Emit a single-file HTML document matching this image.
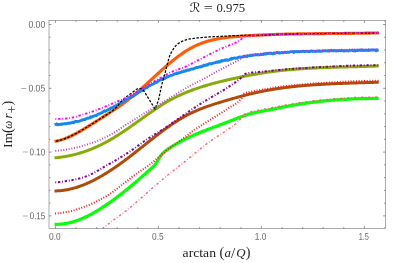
<!DOCTYPE html>
<html lang="en"><head><meta charset="utf-8"><title>R = 0.975</title>
<style>html,body{margin:0;padding:0;background:#fff}svg{display:block}.tk{font-family:"Liberation Sans",sans-serif;font-size:9.8px;fill:#666}.lb{font-family:"Liberation Serif","DejaVu Serif",serif;fill:#222}</style></head><body>
<svg width="407" height="263" viewBox="0 0 407 263">
<rect width="407" height="263" fill="#fff"/>
<defs><clipPath id="c"><rect x="49.0" y="20.5" width="336.5" height="208.0"/></clipPath><filter id="gs" x="0" y="0" width="100%" height="100%" filterUnits="userSpaceOnUse" color-interpolation-filters="sRGB"><feColorMatrix type="saturate" values="0"/></filter></defs>
<g clip-path="url(#c)" fill="none" stroke-linejoin="round">
<path d="M54.50,141.46 L55.25,141.33 L56.00,141.19 L56.75,141.04 L57.50,140.87 L58.25,140.69 L59.00,140.50 L59.75,140.30 L60.50,140.09 L61.25,139.86 L62.00,139.63 L62.75,139.38 L63.50,139.12 L64.25,138.86 L65.00,138.58 L65.75,138.29 L66.50,137.99 L67.25,137.69 L68.00,137.37 L68.75,137.04 L69.50,136.71 L70.25,136.37 L71.00,136.02 L71.75,135.66 L72.50,135.30 L73.25,134.93 L74.00,134.55 L74.75,134.16 L75.50,133.77 L76.25,133.37 L77.00,132.97 L77.75,132.56 L78.50,132.14 L79.25,131.72 L80.00,131.29 L80.75,130.86 L81.50,130.43 L82.25,129.99 L83.00,129.55 L83.75,129.10 L84.50,128.65 L85.25,128.20 L86.00,127.74 L86.75,127.28 L87.50,126.82 L88.25,126.36 L89.00,125.89 L89.75,125.42 L90.50,124.96 L91.25,124.49 L92.00,124.02 L92.75,123.55 L93.50,123.07 L94.25,122.60 L95.00,122.13 L95.75,121.65 L96.50,121.17 L97.25,120.70 L98.00,120.22 L98.75,119.74 L99.50,119.26 L100.25,118.78 L101.00,118.30 L101.75,117.82 L102.50,117.34 L103.25,116.86 L104.00,116.38 L104.75,115.90 L105.50,115.41 L106.25,114.93 L107.00,114.45 L107.75,113.96 L108.50,113.48 L109.25,113.00 L110.00,112.51 L110.75,112.02 L111.50,111.54 L112.25,111.05 L113.00,110.56 L113.75,110.06 L114.50,109.57 L115.25,109.07 L116.00,108.57 L116.75,108.06 L117.50,107.55 L118.25,107.04 L119.00,106.53 L119.75,106.01 L120.50,105.48 L121.25,104.95 L122.00,104.42 L122.75,103.88 L123.50,103.34 L124.25,102.79 L125.00,102.23 L125.75,101.67 L126.50,101.10 L127.25,100.53 L128.00,99.94 L128.75,99.35 L129.50,98.76 L130.25,98.16 L131.00,97.55 L131.75,96.94 L132.50,96.32 L133.25,95.70 L134.00,95.07 L134.75,94.43 L135.50,93.79 L136.25,93.15 L137.00,92.50 L137.75,91.85 L138.50,91.20 L139.25,90.54 L140.00,89.88 L140.75,89.21 L141.50,88.54 L142.25,87.87 L143.00,87.20 L143.75,86.52 L144.50,85.84 L145.25,85.16 L146.00,84.48 L146.75,83.79 L147.50,83.11 L148.25,82.42 L149.00,81.73 L149.75,81.04 L150.50,80.35 L151.25,79.66 L152.00,78.97 L152.75,78.28 L153.50,77.60 L154.25,76.91 L155.00,76.22 L155.75,75.53 L156.50,74.84 L157.25,74.16 L158.00,73.48 L158.75,72.79 L159.50,72.12 L160.25,71.44 L161.00,70.76 L161.75,70.09 L162.50,69.42 L163.25,68.75 L164.00,68.09 L164.75,67.43 L165.50,66.77 L166.25,66.12 L167.00,65.47 L167.75,64.82 L168.50,64.18 L169.25,63.55 L170.00,62.92 L170.75,62.29 L171.50,61.67 L172.25,61.06 L173.00,60.45 L173.75,59.84 L174.50,59.25 L175.25,58.65 L176.00,58.07 L176.75,57.49 L177.50,56.92 L178.25,56.36 L179.00,55.80 L179.75,55.25 L180.50,54.71 L181.25,54.18 L182.00,53.65 L182.75,53.13 L183.50,52.63 L184.25,52.13 L185.00,51.64 L185.75,51.16 L186.50,50.68 L187.25,50.22 L188.00,49.77 L188.75,49.33 L189.50,48.89 L190.25,48.47 L191.00,48.06 L191.75,47.66 L192.50,47.27 L193.25,46.89 L194.00,46.51 L194.75,46.15 L195.50,45.80 L196.25,45.45 L197.00,45.12 L197.75,44.79 L198.50,44.47 L199.25,44.16 L200.00,43.86 L200.75,43.57 L201.50,43.29 L202.25,43.01 L203.00,42.74 L203.75,42.48 L204.50,42.23 L205.25,41.98 L206.00,41.74 L206.75,41.51 L207.50,41.29 L208.25,41.07 L209.00,40.86 L209.75,40.66 L210.50,40.46 L211.25,40.27 L212.00,40.08 L212.75,39.91 L213.50,39.73 L214.25,39.57 L215.00,39.40 L215.75,39.25 L216.50,39.10 L217.25,38.95 L218.00,38.81 L218.75,38.68 L219.50,38.54 L220.25,38.42 L221.00,38.30 L221.75,38.18 L222.50,38.07 L223.25,37.96 L224.00,37.85 L224.75,37.75 L225.50,37.65 L226.25,37.56 L227.00,37.47 L227.75,37.38 L228.50,37.29 L229.25,37.21 L230.00,37.13 L230.75,37.06 L231.50,36.98 L232.25,36.91 L233.00,36.84 L233.75,36.77 L234.50,36.71 L235.25,36.64 L236.00,36.58 L236.75,36.52 L237.50,36.46 L238.25,36.40 L239.00,36.35 L239.75,36.29 L240.50,36.23 L241.25,36.18 L242.00,36.13 L242.75,36.07 L243.50,36.02 L244.25,35.97 L245.00,35.92 L245.75,35.87 L246.50,35.82 L247.25,35.77 L248.00,35.72 L248.75,35.68 L249.50,35.63 L250.25,35.58 L251.00,35.54 L251.75,35.50 L252.50,35.45 L253.25,35.41 L254.00,35.37 L254.75,35.33 L255.50,35.29 L256.25,35.25 L257.00,35.21 L257.75,35.17 L258.50,35.13 L259.25,35.09 L260.00,35.06 L260.75,35.02 L261.50,34.99 L262.25,34.95 L263.00,34.92 L263.75,34.88 L264.50,34.85 L265.25,34.82 L266.00,34.79 L266.75,34.76 L267.50,34.73 L268.25,34.70 L269.00,34.67 L269.75,34.64 L270.50,34.61 L271.25,34.58 L272.00,34.55 L272.75,34.53 L273.50,34.50 L274.25,34.48 L275.00,34.45 L275.75,34.43 L276.50,34.40 L277.25,34.38 L278.00,34.36 L278.75,34.33 L279.50,34.31 L280.25,34.29 L281.00,34.27 L281.75,34.25 L282.50,34.23 L283.25,34.21 L284.00,34.19 L284.75,34.17 L285.50,34.15 L286.25,34.13 L287.00,34.11 L287.75,34.10 L288.50,34.08 L289.25,34.06 L290.00,34.05 L290.75,34.03 L291.50,34.01 L292.25,34.00 L293.00,33.98 L293.75,33.97 L294.50,33.95 L295.25,33.94 L296.00,33.93 L296.75,33.91 L297.50,33.90 L298.25,33.89 L299.00,33.88 L299.75,33.86 L300.50,33.85 L301.25,33.84 L302.00,33.83 L302.75,33.82 L303.50,33.81 L304.25,33.80 L305.00,33.79 L305.75,33.78 L306.50,33.77 L307.25,33.76 L308.00,33.75 L308.75,33.74 L309.50,33.73 L310.25,33.72 L311.00,33.71 L311.75,33.71 L312.50,33.70 L313.25,33.69 L314.00,33.68 L314.75,33.67 L315.50,33.67 L316.25,33.66 L317.00,33.65 L317.75,33.65 L318.50,33.64 L319.25,33.63 L320.00,33.62 L320.75,33.62 L321.50,33.61 L322.25,33.60 L323.00,33.60 L323.75,33.59 L324.50,33.59 L325.25,33.58 L326.00,33.57 L326.75,33.57 L327.50,33.56 L328.25,33.56 L329.00,33.55 L329.75,33.54 L330.50,33.54 L331.25,33.53 L332.00,33.53 L332.75,33.52 L333.50,33.52 L334.25,33.51 L335.00,33.50 L335.75,33.50 L336.50,33.49 L337.25,33.49 L338.00,33.48 L338.75,33.47 L339.50,33.47 L340.25,33.46 L341.00,33.45 L341.75,33.45 L342.50,33.44 L343.25,33.44 L344.00,33.43 L344.75,33.42 L345.50,33.41 L346.25,33.41 L347.00,33.40 L347.75,33.39 L348.50,33.39 L349.25,33.38 L350.00,33.37 L350.75,33.36 L351.50,33.35 L352.25,33.35 L353.00,33.34 L353.75,33.33 L354.50,33.32 L355.25,33.31 L356.00,33.30 L356.75,33.29 L357.50,33.28 L358.25,33.27 L359.00,33.26 L359.75,33.25 L360.50,33.24 L361.25,33.23 L362.00,33.22 L362.75,33.21 L363.50,33.20 L364.25,33.19 L365.00,33.17 L365.75,33.16 L366.50,33.15 L367.25,33.14 L368.00,33.12 L368.75,33.11 L369.50,33.09 L370.25,33.08 L371.00,33.06 L371.75,33.05 L372.50,33.03 L373.25,33.02 L374.00,33.00 L374.75,32.99 L375.50,32.97 L376.25,32.95 L377.00,32.93 L377.75,32.92 L378.50,32.90 L378.70,32.89" stroke="#ff5c05" stroke-width="3.1"/>
<path d="M54.50,124.54 L55.25,124.35 L56.00,124.37 L56.75,123.84 L57.50,124.87 L58.25,124.67 L59.00,124.27 L59.75,124.49 L60.50,124.32 L61.25,124.05 L62.00,124.37 L62.75,123.97 L63.50,123.89 L64.25,123.69 L65.00,123.91 L65.75,123.67 L66.50,123.73 L67.25,123.33 L68.00,123.40 L68.75,123.02 L69.50,123.33 L70.25,123.03 L71.00,122.93 L71.75,122.80 L72.50,122.30 L73.25,122.59 L74.00,122.74 L74.75,121.65 L75.50,121.46 L76.25,121.33 L77.00,121.74 L77.75,121.37 L78.50,121.41 L79.25,121.12 L80.00,120.79 L80.75,120.60 L81.50,120.27 L82.25,120.31 L83.00,119.58 L83.75,119.53 L84.50,119.46 L85.25,119.60 L86.00,118.72 L86.75,118.39 L87.50,118.26 L88.25,118.38 L89.00,117.82 L89.75,117.94 L90.50,116.86 L91.25,117.34 L92.00,117.03 L92.75,116.13 L93.50,116.23 L94.25,116.20 L95.00,115.61 L95.75,115.54 L96.50,115.57 L97.25,114.73 L98.00,114.28 L98.75,113.83 L99.50,113.86 L100.25,113.32 L101.00,112.99 L101.75,112.67 L102.50,112.52 L103.25,111.75 L104.00,111.28 L104.75,110.70 L105.50,111.26 L106.25,110.61 L107.00,110.61 L107.75,109.86 L108.50,109.31 L109.25,109.24 L110.00,108.73 L110.75,108.05 L111.50,107.76 L112.25,108.04 L113.00,107.29 L113.75,106.92 L114.50,106.35 L115.25,105.84 L116.00,105.84 L116.75,105.18 L117.50,104.61 L118.25,104.36 L119.00,103.75 L119.75,103.61 L120.50,103.42 L121.25,102.51 L122.00,102.65 L122.75,101.70 L123.50,101.48 L124.25,100.80 L125.00,100.52 L125.75,100.15 L126.50,99.59 L127.25,99.08 L128.00,98.64 L128.75,98.16 L129.50,97.53 L130.25,97.41 L131.00,97.12 L131.75,96.80 L132.50,96.28 L133.25,96.28 L134.00,95.29 L134.75,94.64 L135.50,94.77 L136.25,93.58 L137.00,93.63 L137.75,92.69 L138.50,92.56 L139.25,91.53 L140.00,91.79 L140.75,91.07 L141.50,90.42 L142.25,90.63 L143.00,89.95 L143.75,89.32 L144.50,88.67 L145.25,88.40 L146.00,87.93 L146.75,87.71 L147.50,87.29 L148.25,86.49 L149.00,86.08 L149.75,85.65 L150.50,85.02 L151.25,84.79 L152.00,84.49 L152.75,84.27 L153.50,84.01 L154.25,83.07 L155.00,83.00 L155.75,82.35 L156.50,82.58 L157.25,81.66 L158.00,81.41 L158.75,80.66 L159.50,80.32 L160.25,80.20 L161.00,79.68 L161.75,79.50 L162.50,78.67 L163.25,78.87 L164.00,78.14 L164.75,78.46 L165.50,77.62 L166.25,77.64 L167.00,76.70 L167.75,76.85 L168.50,76.22 L169.25,76.02 L170.00,75.86 L170.75,75.49 L171.50,75.35 L172.25,75.20 L173.00,74.91 L173.75,74.46 L174.50,73.89 L175.25,73.77 L176.00,73.68 L176.75,72.95 L177.50,73.43 L178.25,72.95 L179.00,72.71 L179.75,72.78 L180.50,72.49 L181.25,72.15 L182.00,71.62 L182.75,71.73 L183.50,71.52 L184.25,71.00 L185.00,71.27 L185.75,70.92 L186.50,70.09 L187.25,70.40 L188.00,69.84 L188.75,70.23 L189.50,69.94 L190.25,69.25 L191.00,69.09 L191.75,69.13 L192.50,68.83 L193.25,69.06 L194.00,68.65 L194.75,68.18 L195.50,68.18 L196.25,67.31 L197.00,67.68 L197.75,67.61 L198.50,67.13 L199.25,66.79 L200.00,66.89 L200.75,67.03 L201.50,66.38 L202.25,65.83 L203.00,66.26 L203.75,65.22 L204.50,65.61 L205.25,65.13 L206.00,65.30 L206.75,64.65 L207.50,64.98 L208.25,64.52 L209.00,63.81 L209.75,63.54 L210.50,63.76 L211.25,63.96 L212.00,63.47 L212.75,63.26 L213.50,62.98 L214.25,63.03 L215.00,62.75 L215.75,62.53 L216.50,62.03 L217.25,62.38 L218.00,62.24 L218.75,61.39 L219.50,62.11 L220.25,61.54 L221.00,61.06 L221.75,60.53 L222.50,60.99 L223.25,60.80 L224.00,60.34 L224.75,59.87 L225.50,60.44 L226.25,59.85 L227.00,59.71 L227.75,60.39 L228.50,60.05 L229.25,59.60 L230.00,59.10 L230.75,59.22 L231.50,58.34 L232.25,58.79 L233.00,58.43 L233.75,58.15 L234.50,57.94 L235.25,58.32 L236.00,58.08 L236.75,57.96 L237.50,58.00 L238.25,57.44 L239.00,57.21 L239.75,56.95 L240.50,57.18 L241.25,57.33 L242.00,56.98 L242.75,57.06 L243.50,56.48 L244.25,56.54 L245.00,56.35 L245.75,56.12 L246.50,56.78 L247.25,56.42 L248.00,55.90 L248.75,55.79 L249.50,55.86 L250.25,55.41 L251.00,55.78 L251.75,55.24 L252.50,55.37 L253.25,55.11 L254.00,55.15 L254.75,54.84 L255.50,54.69 L256.25,54.74 L257.00,54.72 L257.75,54.73 L258.50,54.73 L259.25,55.01 L260.00,54.74 L260.75,54.39 L261.50,54.55 L262.25,54.12 L263.00,54.57 L263.75,54.27 L264.50,53.71 L265.25,54.17 L266.00,54.11 L266.75,53.16 L267.50,53.57 L268.25,53.56 L269.00,53.13 L269.75,53.28 L270.50,53.24 L271.25,53.54 L272.00,53.42 L272.75,53.93 L273.50,53.12 L274.25,53.44 L275.00,53.11 L275.75,53.10 L276.50,52.68 L277.25,52.44 L278.00,52.67 L278.75,52.99 L279.50,53.15 L280.25,52.85 L281.00,52.77 L281.75,52.38 L282.50,52.93 L283.25,52.83 L284.00,52.31 L284.75,52.39 L285.50,52.10 L286.25,52.67 L287.00,52.36 L287.75,52.19 L288.50,52.28 L289.25,52.24 L290.00,51.99 L290.75,51.74 L291.50,51.69 L292.25,51.54 L293.00,52.05 L293.75,52.46 L294.50,51.44 L295.25,51.86 L296.00,51.90 L296.75,51.52 L297.50,51.78 L298.25,51.42 L299.00,51.97 L299.75,51.49 L300.50,51.63 L301.25,51.75 L302.00,51.44 L302.75,51.07 L303.50,51.36 L304.25,51.66 L305.00,51.42 L305.75,51.47 L306.50,51.12 L307.25,51.40 L308.00,51.53 L308.75,51.33 L309.50,51.78 L310.25,51.23 L311.00,51.00 L311.75,50.83 L312.50,51.51 L313.25,51.18 L314.00,51.43 L314.75,51.27 L315.50,51.55 L316.25,51.44 L317.00,51.01 L317.75,51.16 L318.50,51.34 L319.25,50.75 L320.00,51.40 L320.75,51.33 L321.50,51.26 L322.25,50.95 L323.00,51.06 L323.75,50.69 L324.50,50.97 L325.25,50.80 L326.00,50.95 L326.75,50.79 L327.50,50.97 L328.25,51.19 L329.00,50.55 L329.75,51.10 L330.50,50.36 L331.25,50.30 L332.00,50.80 L332.75,50.82 L333.50,50.92 L334.25,50.39 L335.00,50.78 L335.75,50.81 L336.50,51.08 L337.25,50.73 L338.00,50.88 L338.75,50.49 L339.50,50.68 L340.25,50.61 L341.00,50.89 L341.75,50.45 L342.50,50.48 L343.25,50.82 L344.00,51.12 L344.75,50.76 L345.50,50.73 L346.25,50.55 L347.00,50.90 L347.75,50.75 L348.50,51.04 L349.25,50.68 L350.00,50.35 L350.75,50.44 L351.50,50.32 L352.25,50.24 L353.00,50.86 L353.75,50.74 L354.50,50.21 L355.25,50.96 L356.00,50.56 L356.75,50.25 L357.50,50.57 L358.25,50.44 L359.00,50.26 L359.75,49.95 L360.50,50.43 L361.25,50.48 L362.00,49.75 L362.75,50.52 L363.50,50.52 L364.25,50.23 L365.00,50.36 L365.75,50.25 L366.50,50.09 L367.25,50.20 L368.00,50.61 L368.75,49.89 L369.50,50.29 L370.25,50.26 L371.00,50.02 L371.75,50.07 L372.50,49.81 L373.25,49.92 L374.00,50.12 L374.75,50.18 L375.50,49.85 L376.25,50.82 L377.00,49.89 L377.75,50.04 L378.50,49.92 L378.70,49.87" stroke="#1787f0" stroke-width="2.85"/>
<path d="M54.50,157.86 L55.25,157.79 L56.00,157.72 L56.75,157.65 L57.50,157.57 L58.25,157.49 L59.00,157.40 L59.75,157.31 L60.50,157.21 L61.25,157.11 L62.00,157.00 L62.75,156.89 L63.50,156.77 L64.25,156.65 L65.00,156.53 L65.75,156.40 L66.50,156.26 L67.25,156.12 L68.00,155.98 L68.75,155.83 L69.50,155.68 L70.25,155.52 L71.00,155.35 L71.75,155.19 L72.50,155.01 L73.25,154.84 L74.00,154.65 L74.75,154.47 L75.50,154.27 L76.25,154.08 L77.00,153.87 L77.75,153.67 L78.50,153.45 L79.25,153.24 L80.00,153.02 L80.75,152.79 L81.50,152.56 L82.25,152.32 L83.00,152.08 L83.75,151.83 L84.50,151.58 L85.25,151.32 L86.00,151.06 L86.75,150.79 L87.50,150.52 L88.25,150.24 L89.00,149.96 L89.75,149.68 L90.50,149.38 L91.25,149.09 L92.00,148.78 L92.75,148.48 L93.50,148.16 L94.25,147.84 L95.00,147.52 L95.75,147.19 L96.50,146.86 L97.25,146.52 L98.00,146.18 L98.75,145.83 L99.50,145.47 L100.25,145.11 L101.00,144.75 L101.75,144.38 L102.50,144.00 L103.25,143.62 L104.00,143.24 L104.75,142.85 L105.50,142.45 L106.25,142.05 L107.00,141.64 L107.75,141.23 L108.50,140.81 L109.25,140.38 L110.00,139.96 L110.75,139.52 L111.50,139.09 L112.25,138.64 L113.00,138.19 L113.75,137.74 L114.50,137.29 L115.25,136.83 L116.00,136.36 L116.75,135.89 L117.50,135.42 L118.25,134.94 L119.00,134.46 L119.75,133.98 L120.50,133.49 L121.25,133.00 L122.00,132.51 L122.75,132.01 L123.50,131.51 L124.25,131.01 L125.00,130.50 L125.75,129.99 L126.50,129.48 L127.25,128.97 L128.00,128.45 L128.75,127.93 L129.50,127.41 L130.25,126.89 L131.00,126.37 L131.75,125.84 L132.50,125.31 L133.25,124.78 L134.00,124.25 L134.75,123.72 L135.50,123.19 L136.25,122.65 L137.00,122.12 L137.75,121.58 L138.50,121.04 L139.25,120.51 L140.00,119.97 L140.75,119.43 L141.50,118.89 L142.25,118.35 L143.00,117.82 L143.75,117.28 L144.50,116.74 L145.25,116.20 L146.00,115.67 L146.75,115.14 L147.50,114.60 L148.25,114.07 L149.00,113.54 L149.75,113.01 L150.50,112.49 L151.25,111.97 L152.00,111.44 L152.75,110.93 L153.50,110.41 L154.25,109.90 L155.00,109.39 L155.75,108.88 L156.50,108.38 L157.25,107.88 L158.00,107.38 L158.75,106.89 L159.50,106.40 L160.25,105.91 L161.00,105.44 L161.75,104.96 L162.50,104.49 L163.25,104.02 L164.00,103.56 L164.75,103.11 L165.50,102.66 L166.25,102.22 L167.00,101.78 L167.75,101.35 L168.50,100.92 L169.25,100.50 L170.00,100.09 L170.75,99.68 L171.50,99.28 L172.25,98.88 L173.00,98.49 L173.75,98.10 L174.50,97.72 L175.25,97.35 L176.00,96.98 L176.75,96.61 L177.50,96.25 L178.25,95.90 L179.00,95.55 L179.75,95.20 L180.50,94.86 L181.25,94.53 L182.00,94.19 L182.75,93.87 L183.50,93.54 L184.25,93.23 L185.00,92.91 L185.75,92.60 L186.50,92.29 L187.25,91.99 L188.00,91.69 L188.75,91.40 L189.50,91.11 L190.25,90.82 L191.00,90.53 L191.75,90.25 L192.50,89.98 L193.25,89.70 L194.00,89.43 L194.75,89.16 L195.50,88.90 L196.25,88.64 L197.00,88.38 L197.75,88.13 L198.50,87.88 L199.25,87.63 L200.00,87.38 L200.75,87.14 L201.50,86.90 L202.25,86.66 L203.00,86.43 L203.75,86.20 L204.50,85.97 L205.25,85.74 L206.00,85.52 L206.75,85.29 L207.50,85.07 L208.25,84.86 L209.00,84.64 L209.75,84.43 L210.50,84.22 L211.25,84.01 L212.00,83.81 L212.75,83.60 L213.50,83.40 L214.25,83.20 L215.00,83.00 L215.75,82.81 L216.50,82.61 L217.25,82.42 L218.00,82.23 L218.75,82.04 L219.50,81.85 L220.25,81.66 L221.00,81.48 L221.75,81.29 L222.50,81.11 L223.25,80.93 L224.00,80.75 L224.75,80.57 L225.50,80.39 L226.25,80.22 L227.00,80.04 L227.75,79.87 L228.50,79.69 L229.25,79.52 L230.00,79.35 L230.75,79.18 L231.50,79.01 L232.25,78.84 L233.00,78.67 L233.75,78.51 L234.50,78.34 L235.25,78.17 L236.00,78.01 L236.75,77.85 L237.50,77.69 L238.25,77.53 L239.00,77.37 L239.75,77.21 L240.50,77.05 L241.25,76.89 L242.00,76.74 L242.75,76.58 L243.50,76.43 L244.25,76.28 L245.00,76.13 L245.75,75.98 L246.50,75.83 L247.25,75.69 L248.00,75.54 L248.75,75.40 L249.50,75.25 L250.25,75.11 L251.00,74.97 L251.75,74.83 L252.50,74.69 L253.25,74.56 L254.00,74.42 L254.75,74.29 L255.50,74.16 L256.25,74.03 L257.00,73.90 L257.75,73.77 L258.50,73.64 L259.25,73.52 L260.00,73.39 L260.75,73.27 L261.50,73.15 L262.25,73.03 L263.00,72.91 L263.75,72.79 L264.50,72.68 L265.25,72.57 L266.00,72.46 L266.75,72.34 L267.50,72.24 L268.25,72.13 L269.00,72.02 L269.75,71.92 L270.50,71.82 L271.25,71.72 L272.00,71.62 L272.75,71.52 L273.50,71.42 L274.25,71.33 L275.00,71.24 L275.75,71.14 L276.50,71.05 L277.25,70.96 L278.00,70.88 L278.75,70.79 L279.50,70.70 L280.25,70.62 L281.00,70.54 L281.75,70.46 L282.50,70.38 L283.25,70.30 L284.00,70.22 L284.75,70.15 L285.50,70.07 L286.25,70.00 L287.00,69.93 L287.75,69.86 L288.50,69.79 L289.25,69.72 L290.00,69.65 L290.75,69.59 L291.50,69.52 L292.25,69.46 L293.00,69.40 L293.75,69.33 L294.50,69.27 L295.25,69.21 L296.00,69.16 L296.75,69.10 L297.50,69.04 L298.25,68.99 L299.00,68.93 L299.75,68.88 L300.50,68.83 L301.25,68.78 L302.00,68.73 L302.75,68.68 L303.50,68.63 L304.25,68.58 L305.00,68.53 L305.75,68.49 L306.50,68.44 L307.25,68.40 L308.00,68.36 L308.75,68.31 L309.50,68.27 L310.25,68.23 L311.00,68.19 L311.75,68.15 L312.50,68.11 L313.25,68.07 L314.00,68.04 L314.75,68.00 L315.50,67.97 L316.25,67.93 L317.00,67.90 L317.75,67.86 L318.50,67.83 L319.25,67.80 L320.00,67.77 L320.75,67.73 L321.50,67.70 L322.25,67.67 L323.00,67.64 L323.75,67.61 L324.50,67.59 L325.25,67.56 L326.00,67.53 L326.75,67.50 L327.50,67.48 L328.25,67.45 L329.00,67.42 L329.75,67.40 L330.50,67.37 L331.25,67.35 L332.00,67.33 L332.75,67.30 L333.50,67.28 L334.25,67.26 L335.00,67.23 L335.75,67.21 L336.50,67.19 L337.25,67.17 L338.00,67.14 L338.75,67.12 L339.50,67.10 L340.25,67.08 L341.00,67.06 L341.75,67.04 L342.50,67.02 L343.25,67.00 L344.00,66.98 L344.75,66.96 L345.50,66.94 L346.25,66.92 L347.00,66.90 L347.75,66.88 L348.50,66.86 L349.25,66.84 L350.00,66.82 L350.75,66.80 L351.50,66.78 L352.25,66.76 L353.00,66.74 L353.75,66.73 L354.50,66.71 L355.25,66.69 L356.00,66.67 L356.75,66.65 L357.50,66.63 L358.25,66.61 L359.00,66.59 L359.75,66.57 L360.50,66.55 L361.25,66.53 L362.00,66.50 L362.75,66.48 L363.50,66.46 L364.25,66.44 L365.00,66.42 L365.75,66.40 L366.50,66.38 L367.25,66.35 L368.00,66.33 L368.75,66.31 L369.50,66.28 L370.25,66.26 L371.00,66.23 L371.75,66.21 L372.50,66.19 L373.25,66.16 L374.00,66.13 L374.75,66.11 L375.50,66.08 L376.25,66.05 L377.00,66.03 L377.75,66.00 L378.50,65.97 L378.70,65.96" stroke="#86ac0a" stroke-width="3.0"/>
<path d="M54.50,190.93 L55.25,190.93 L56.00,190.92 L56.75,190.90 L57.50,190.87 L58.25,190.83 L59.00,190.78 L59.75,190.72 L60.50,190.66 L61.25,190.58 L62.00,190.50 L62.75,190.41 L63.50,190.31 L64.25,190.21 L65.00,190.09 L65.75,189.97 L66.50,189.84 L67.25,189.70 L68.00,189.56 L68.75,189.40 L69.50,189.24 L70.25,189.07 L71.00,188.89 L71.75,188.71 L72.50,188.52 L73.25,188.32 L74.00,188.11 L74.75,187.90 L75.50,187.68 L76.25,187.45 L77.00,187.21 L77.75,186.97 L78.50,186.72 L79.25,186.46 L80.00,186.20 L80.75,185.93 L81.50,185.65 L82.25,185.37 L83.00,185.08 L83.75,184.78 L84.50,184.48 L85.25,184.17 L86.00,183.85 L86.75,183.53 L87.50,183.20 L88.25,182.87 L89.00,182.53 L89.75,182.18 L90.50,181.83 L91.25,181.47 L92.00,181.11 L92.75,180.74 L93.50,180.36 L94.25,179.98 L95.00,179.59 L95.75,179.20 L96.50,178.80 L97.25,178.40 L98.00,177.99 L98.75,177.58 L99.50,177.16 L100.25,176.73 L101.00,176.30 L101.75,175.87 L102.50,175.43 L103.25,174.99 L104.00,174.54 L104.75,174.08 L105.50,173.63 L106.25,173.16 L107.00,172.70 L107.75,172.22 L108.50,171.75 L109.25,171.27 L110.00,170.78 L110.75,170.29 L111.50,169.80 L112.25,169.30 L113.00,168.80 L113.75,168.29 L114.50,167.79 L115.25,167.27 L116.00,166.75 L116.75,166.23 L117.50,165.71 L118.25,165.18 L119.00,164.65 L119.75,164.11 L120.50,163.58 L121.25,163.03 L122.00,162.49 L122.75,161.94 L123.50,161.39 L124.25,160.84 L125.00,160.28 L125.75,159.72 L126.50,159.15 L127.25,158.59 L128.00,158.02 L128.75,157.45 L129.50,156.87 L130.25,156.30 L131.00,155.72 L131.75,155.14 L132.50,154.55 L133.25,153.97 L134.00,153.38 L134.75,152.80 L135.50,152.21 L136.25,151.61 L137.00,151.02 L137.75,150.43 L138.50,149.83 L139.25,149.24 L140.00,148.64 L140.75,148.05 L141.50,147.45 L142.25,146.85 L143.00,146.26 L143.75,145.66 L144.50,145.06 L145.25,144.46 L146.00,143.87 L146.75,143.27 L147.50,142.67 L148.25,142.08 L149.00,141.48 L149.75,140.89 L150.50,140.29 L151.25,139.70 L152.00,139.11 L152.75,138.52 L153.50,137.94 L154.25,137.35 L155.00,136.77 L155.75,136.18 L156.50,135.60 L157.25,135.02 L158.00,134.45 L158.75,133.88 L159.50,133.30 L160.25,132.74 L161.00,132.17 L161.75,131.61 L162.50,131.05 L163.25,130.49 L164.00,129.94 L164.75,129.39 L165.50,128.84 L166.25,128.30 L167.00,127.76 L167.75,127.23 L168.50,126.70 L169.25,126.17 L170.00,125.65 L170.75,125.13 L171.50,124.62 L172.25,124.11 L173.00,123.60 L173.75,123.10 L174.50,122.61 L175.25,122.12 L176.00,121.63 L176.75,121.15 L177.50,120.68 L178.25,120.21 L179.00,119.75 L179.75,119.29 L180.50,118.84 L181.25,118.39 L182.00,117.95 L182.75,117.52 L183.50,117.09 L184.25,116.66 L185.00,116.25 L185.75,115.84 L186.50,115.44 L187.25,115.04 L188.00,114.65 L188.75,114.27 L189.50,113.89 L190.25,113.52 L191.00,113.15 L191.75,112.80 L192.50,112.44 L193.25,112.10 L194.00,111.76 L194.75,111.42 L195.50,111.09 L196.25,110.76 L197.00,110.44 L197.75,110.13 L198.50,109.82 L199.25,109.51 L200.00,109.21 L200.75,108.91 L201.50,108.62 L202.25,108.33 L203.00,108.05 L203.75,107.76 L204.50,107.49 L205.25,107.21 L206.00,106.94 L206.75,106.67 L207.50,106.41 L208.25,106.14 L209.00,105.89 L209.75,105.63 L210.50,105.37 L211.25,105.12 L212.00,104.87 L212.75,104.63 L213.50,104.38 L214.25,104.14 L215.00,103.90 L215.75,103.66 L216.50,103.43 L217.25,103.19 L218.00,102.96 L218.75,102.73 L219.50,102.50 L220.25,102.27 L221.00,102.04 L221.75,101.82 L222.50,101.60 L223.25,101.37 L224.00,101.15 L224.75,100.93 L225.50,100.71 L226.25,100.49 L227.00,100.27 L227.75,100.05 L228.50,99.83 L229.25,99.62 L230.00,99.40 L230.75,99.18 L231.50,98.97 L232.25,98.75 L233.00,98.54 L233.75,98.33 L234.50,98.11 L235.25,97.90 L236.00,97.69 L236.75,97.48 L237.50,97.27 L238.25,97.07 L239.00,96.86 L239.75,96.66 L240.50,96.45 L241.25,96.25 L242.00,96.05 L242.75,95.85 L243.50,95.66 L244.25,95.46 L245.00,95.27 L245.75,95.08 L246.50,94.89 L247.25,94.70 L248.00,94.51 L248.75,94.33 L249.50,94.14 L250.25,93.96 L251.00,93.78 L251.75,93.61 L252.50,93.43 L253.25,93.26 L254.00,93.09 L254.75,92.92 L255.50,92.75 L256.25,92.59 L257.00,92.42 L257.75,92.26 L258.50,92.10 L259.25,91.95 L260.00,91.79 L260.75,91.64 L261.50,91.48 L262.25,91.33 L263.00,91.19 L263.75,91.04 L264.50,90.89 L265.25,90.75 L266.00,90.61 L266.75,90.47 L267.50,90.33 L268.25,90.20 L269.00,90.06 L269.75,89.93 L270.50,89.80 L271.25,89.67 L272.00,89.55 L272.75,89.42 L273.50,89.30 L274.25,89.18 L275.00,89.06 L275.75,88.94 L276.50,88.82 L277.25,88.71 L278.00,88.60 L278.75,88.49 L279.50,88.38 L280.25,88.27 L281.00,88.16 L281.75,88.06 L282.50,87.95 L283.25,87.85 L284.00,87.75 L284.75,87.65 L285.50,87.55 L286.25,87.46 L287.00,87.36 L287.75,87.27 L288.50,87.18 L289.25,87.09 L290.00,87.00 L290.75,86.91 L291.50,86.83 L292.25,86.74 L293.00,86.66 L293.75,86.57 L294.50,86.49 L295.25,86.41 L296.00,86.34 L296.75,86.26 L297.50,86.18 L298.25,86.11 L299.00,86.04 L299.75,85.96 L300.50,85.89 L301.25,85.82 L302.00,85.76 L302.75,85.69 L303.50,85.62 L304.25,85.56 L305.00,85.49 L305.75,85.43 L306.50,85.37 L307.25,85.31 L308.00,85.25 L308.75,85.19 L309.50,85.13 L310.25,85.07 L311.00,85.02 L311.75,84.96 L312.50,84.91 L313.25,84.86 L314.00,84.81 L314.75,84.76 L315.50,84.71 L316.25,84.66 L317.00,84.61 L317.75,84.56 L318.50,84.51 L319.25,84.47 L320.00,84.42 L320.75,84.38 L321.50,84.34 L322.25,84.29 L323.00,84.25 L323.75,84.21 L324.50,84.17 L325.25,84.13 L326.00,84.09 L326.75,84.05 L327.50,84.01 L328.25,83.98 L329.00,83.94 L329.75,83.91 L330.50,83.87 L331.25,83.84 L332.00,83.80 L332.75,83.77 L333.50,83.73 L334.25,83.70 L335.00,83.67 L335.75,83.64 L336.50,83.61 L337.25,83.58 L338.00,83.55 L338.75,83.52 L339.50,83.49 L340.25,83.46 L341.00,83.43 L341.75,83.40 L342.50,83.38 L343.25,83.35 L344.00,83.32 L344.75,83.30 L345.50,83.27 L346.25,83.24 L347.00,83.22 L347.75,83.19 L348.50,83.17 L349.25,83.14 L350.00,83.12 L350.75,83.09 L351.50,83.07 L352.25,83.04 L353.00,83.02 L353.75,83.00 L354.50,82.97 L355.25,82.95 L356.00,82.93 L356.75,82.90 L357.50,82.88 L358.25,82.86 L359.00,82.83 L359.75,82.81 L360.50,82.79 L361.25,82.76 L362.00,82.74 L362.75,82.72 L363.50,82.69 L364.25,82.67 L365.00,82.64 L365.75,82.62 L366.50,82.60 L367.25,82.57 L368.00,82.55 L368.75,82.53 L369.50,82.50 L370.25,82.48 L371.00,82.45 L371.75,82.43 L372.50,82.40 L373.25,82.38 L374.00,82.35 L374.75,82.33 L375.50,82.30 L376.25,82.27 L377.00,82.25 L377.75,82.22 L378.50,82.19 L378.70,82.18" stroke="#ae4c0c" stroke-width="3.0"/>
<path d="M54.50,224.26 L55.25,224.29 L56.00,224.30 L56.75,224.30 L57.50,224.29 L58.25,224.27 L59.00,224.23 L59.75,224.19 L60.50,224.14 L61.25,224.07 L62.00,224.00 L62.75,223.92 L63.50,223.82 L64.25,223.72 L65.00,223.60 L65.75,223.48 L66.50,223.35 L67.25,223.20 L68.00,223.05 L68.75,222.89 L69.50,222.72 L70.25,222.54 L71.00,222.35 L71.75,222.15 L72.50,221.94 L73.25,221.72 L74.00,221.50 L74.75,221.26 L75.50,221.02 L76.25,220.77 L77.00,220.51 L77.75,220.24 L78.50,219.97 L79.25,219.68 L80.00,219.39 L80.75,219.09 L81.50,218.79 L82.25,218.47 L83.00,218.15 L83.75,217.82 L84.50,217.48 L85.25,217.14 L86.00,216.78 L86.75,216.43 L87.50,216.06 L88.25,215.69 L89.00,215.31 L89.75,214.92 L90.50,214.53 L91.25,214.13 L92.00,213.72 L92.75,213.31 L93.50,212.89 L94.25,212.47 L95.00,212.04 L95.75,211.60 L96.50,211.16 L97.25,210.72 L98.00,210.26 L98.75,209.80 L99.50,209.34 L100.25,208.87 L101.00,208.40 L101.75,207.92 L102.50,207.43 L103.25,206.94 L104.00,206.45 L104.75,205.95 L105.50,205.45 L106.25,204.94 L107.00,204.43 L107.75,203.91 L108.50,203.39 L109.25,202.87 L110.00,202.34 L110.75,201.80 L111.50,201.27 L112.25,200.72 L113.00,200.18 L113.75,199.63 L114.50,199.08 L115.25,198.52 L116.00,197.96 L116.75,197.40 L117.50,196.83 L118.25,196.26 L119.00,195.68 L119.75,195.11 L120.50,194.52 L121.25,193.94 L122.00,193.35 L122.75,192.76 L123.50,192.17 L124.25,191.57 L125.00,190.97 L125.75,190.37 L126.50,189.76 L127.25,189.15 L128.00,188.54 L128.75,187.92 L129.50,187.31 L130.25,186.69 L131.00,186.06 L131.75,185.44 L132.50,184.81 L133.25,184.18 L134.00,183.55 L134.75,182.91 L135.50,182.28 L136.25,181.64 L137.00,181.00 L137.75,180.35 L138.50,179.71 L139.25,179.06 L140.00,178.41 L140.75,177.76 L141.50,177.10 L142.25,176.45 L143.00,175.79 L143.75,175.13 L144.50,174.47 L145.25,173.81 L146.00,173.15 L146.75,172.48 L147.50,171.82 L148.25,171.15 L149.00,170.48 L149.75,169.81 L150.50,169.14 L151.25,168.47 L152.00,167.79 L152.75,167.11 L153.50,166.37 L154.25,165.56 L155.00,164.65 L155.75,163.61 L156.50,162.48 L157.25,161.28 L158.00,160.04 L158.75,158.79 L159.50,157.58 L160.25,156.45 L161.00,155.42 L161.75,154.49 L162.50,153.65 L163.25,152.89 L164.00,152.20 L164.75,151.56 L165.50,150.97 L166.25,150.42 L167.00,149.89 L167.75,149.37 L168.50,148.87 L169.25,148.36 L170.00,147.87 L170.75,147.38 L171.50,146.90 L172.25,146.43 L173.00,145.96 L173.75,145.50 L174.50,145.04 L175.25,144.59 L176.00,144.15 L176.75,143.71 L177.50,143.28 L178.25,142.85 L179.00,142.43 L179.75,142.01 L180.50,141.60 L181.25,141.20 L182.00,140.80 L182.75,140.40 L183.50,140.01 L184.25,139.63 L185.00,139.25 L185.75,138.88 L186.50,138.50 L187.25,138.14 L188.00,137.78 L188.75,137.42 L189.50,137.07 L190.25,136.72 L191.00,136.37 L191.75,136.03 L192.50,135.69 L193.25,135.36 L194.00,135.03 L194.75,134.70 L195.50,134.38 L196.25,134.06 L197.00,133.74 L197.75,133.43 L198.50,133.12 L199.25,132.81 L200.00,132.50 L200.75,132.20 L201.50,131.90 L202.25,131.60 L203.00,131.31 L203.75,131.01 L204.50,130.72 L205.25,130.43 L206.00,130.14 L206.75,129.86 L207.50,129.57 L208.25,129.29 L209.00,129.00 L209.75,128.72 L210.50,128.44 L211.25,128.16 L212.00,127.88 L212.75,127.61 L213.50,127.33 L214.25,127.05 L215.00,126.77 L215.75,126.50 L216.50,126.22 L217.25,125.94 L218.00,125.66 L218.75,125.39 L219.50,125.11 L220.25,124.83 L221.00,124.55 L221.75,124.27 L222.50,123.99 L223.25,123.70 L224.00,123.42 L224.75,123.13 L225.50,122.85 L226.25,122.56 L227.00,122.27 L227.75,121.98 L228.50,121.68 L229.25,121.39 L230.00,121.09 L230.75,120.79 L231.50,120.49 L232.25,120.19 L233.00,119.89 L233.75,119.60 L234.50,119.30 L235.25,119.00 L236.00,118.71 L236.75,118.41 L237.50,118.12 L238.25,117.83 L239.00,117.55 L239.75,117.27 L240.50,116.99 L241.25,116.71 L242.00,116.44 L242.75,116.18 L243.50,115.92 L244.25,115.66 L245.00,115.41 L245.75,115.17 L246.50,114.93 L247.25,114.70 L248.00,114.48 L248.75,114.27 L249.50,114.06 L250.25,113.85 L251.00,113.66 L251.75,113.47 L252.50,113.28 L253.25,113.10 L254.00,112.93 L254.75,112.76 L255.50,112.59 L256.25,112.43 L257.00,112.27 L257.75,112.11 L258.50,111.96 L259.25,111.81 L260.00,111.66 L260.75,111.52 L261.50,111.37 L262.25,111.23 L263.00,111.08 L263.75,110.94 L264.50,110.80 L265.25,110.66 L266.00,110.52 L266.75,110.37 L267.50,110.23 L268.25,110.08 L269.00,109.94 L269.75,109.79 L270.50,109.64 L271.25,109.49 L272.00,109.34 L272.75,109.19 L273.50,109.04 L274.25,108.89 L275.00,108.73 L275.75,108.58 L276.50,108.43 L277.25,108.28 L278.00,108.12 L278.75,107.97 L279.50,107.82 L280.25,107.67 L281.00,107.52 L281.75,107.37 L282.50,107.22 L283.25,107.07 L284.00,106.92 L284.75,106.77 L285.50,106.63 L286.25,106.48 L287.00,106.34 L287.75,106.20 L288.50,106.06 L289.25,105.92 L290.00,105.78 L290.75,105.65 L291.50,105.51 L292.25,105.38 L293.00,105.25 L293.75,105.12 L294.50,104.99 L295.25,104.86 L296.00,104.74 L296.75,104.61 L297.50,104.49 L298.25,104.37 L299.00,104.25 L299.75,104.13 L300.50,104.01 L301.25,103.89 L302.00,103.78 L302.75,103.67 L303.50,103.55 L304.25,103.44 L305.00,103.33 L305.75,103.23 L306.50,103.12 L307.25,103.01 L308.00,102.91 L308.75,102.81 L309.50,102.71 L310.25,102.61 L311.00,102.51 L311.75,102.41 L312.50,102.31 L313.25,102.22 L314.00,102.13 L314.75,102.03 L315.50,101.94 L316.25,101.85 L317.00,101.77 L317.75,101.68 L318.50,101.59 L319.25,101.51 L320.00,101.43 L320.75,101.34 L321.50,101.26 L322.25,101.18 L323.00,101.11 L323.75,101.03 L324.50,100.95 L325.25,100.88 L326.00,100.80 L326.75,100.73 L327.50,100.66 L328.25,100.59 L329.00,100.52 L329.75,100.46 L330.50,100.39 L331.25,100.33 L332.00,100.26 L332.75,100.20 L333.50,100.14 L334.25,100.08 L335.00,100.02 L335.75,99.96 L336.50,99.91 L337.25,99.85 L338.00,99.80 L338.75,99.74 L339.50,99.69 L340.25,99.64 L341.00,99.59 L341.75,99.54 L342.50,99.50 L343.25,99.45 L344.00,99.41 L344.75,99.36 L345.50,99.32 L346.25,99.28 L347.00,99.24 L347.75,99.20 L348.50,99.16 L349.25,99.12 L350.00,99.09 L350.75,99.05 L351.50,99.02 L352.25,98.98 L353.00,98.95 L353.75,98.92 L354.50,98.89 L355.25,98.86 L356.00,98.83 L356.75,98.81 L357.50,98.78 L358.25,98.76 L359.00,98.73 L359.75,98.71 L360.50,98.69 L361.25,98.67 L362.00,98.65 L362.75,98.63 L363.50,98.61 L364.25,98.60 L365.00,98.58 L365.75,98.57 L366.50,98.56 L367.25,98.54 L368.00,98.53 L368.75,98.52 L369.50,98.51 L370.25,98.50 L371.00,98.50 L371.75,98.49 L372.50,98.48 L373.25,98.48 L374.00,98.47 L374.75,98.47 L375.50,98.47 L376.25,98.47 L377.00,98.47 L377.75,98.47 L378.50,98.47 L378.70,98.47" stroke="#08ff08" stroke-width="3.2"/>
<path d="M56.00,141.19 L56.75,141.04 L57.50,140.87 L58.25,140.69 L59.00,140.50 L59.75,140.30 L60.50,140.09 L61.25,139.86 L62.00,139.63 L62.75,139.38 L63.50,139.12 L64.25,138.86 L65.00,138.58 L65.75,138.29 L66.50,137.99 L67.25,137.69 L68.00,137.37 L68.75,137.04 L69.50,136.71 L70.25,136.37 L71.00,136.02 L71.75,135.66 L72.50,135.30 L73.25,134.93 L74.00,134.55 L74.75,134.16 L75.50,133.77 L76.25,133.37 L77.00,132.97 L77.75,132.56 L78.50,132.14 L79.25,131.72 L80.00,131.29 L80.75,130.86 L81.50,130.43 L82.25,129.99 L83.00,129.55 L83.75,129.10 L84.50,128.65 L85.25,128.20 L86.00,127.74 L86.75,127.28 L87.50,126.82 L88.25,126.36 L89.00,125.89 L89.75,125.42 L90.50,124.96 L91.25,124.49 L92.00,124.02 L92.75,123.55 L93.50,123.07 L94.25,122.60 L95.00,122.13 L95.75,121.65 L96.50,121.17 L97.25,120.70 L98.00,120.22 L98.75,119.74 L99.50,119.26 L100.25,118.78 L101.00,118.30 L101.75,117.82 L102.50,117.34 L103.25,116.86 L104.00,116.38 L104.75,115.90 L105.50,115.41 L106.25,114.93 L107.00,114.45 L107.75,113.96 L108.50,113.48 L109.25,113.00 L110.00,112.51 L110.75,112.02 L111.50,111.54 L112.30,110.98 L113.05,110.38 L113.80,109.76 L114.55,109.12 L115.30,108.45 L116.05,107.73 L116.80,106.96 L117.55,106.10 L118.30,105.16 L119.05,104.15 L119.80,103.07 L120.55,102.18 L121.30,101.39 L122.05,100.66 L122.80,99.96 L123.55,99.29 L124.30,98.63 L125.05,98.00 L125.80,97.38 L126.55,96.79 L127.30,96.22 L128.05,95.67 L128.80,95.12 L129.55,94.56 L130.30,93.99 L131.05,93.40 L131.80,92.79 L132.55,92.20 L133.30,91.64 L134.05,91.13 L134.80,90.57 L135.55,89.99 L136.30,89.46 L137.05,89.02 L137.80,88.76 L138.55,88.70 L139.30,88.70 L140.05,88.70 L140.80,88.70 L141.55,88.70 L142.30,88.97 L143.05,89.81 L143.50,90.40 L155.00,108.90 L158.40,100.60 L161.80,84.60 L165.40,71.90 L167.20,64.60 L167.95,61.71 L168.70,59.05 L169.45,56.54 L170.20,54.61 L170.95,53.11 L171.70,51.81 L172.45,50.54 L173.20,49.27 L173.95,48.07 L174.70,47.02 L175.45,46.15 L176.20,45.38 L176.95,44.70 L177.70,44.07 L178.45,43.48 L179.20,42.93 L179.95,42.43 L180.70,42.00 L181.45,41.62 L182.20,41.26 L182.95,40.94 L183.70,40.65 L184.45,40.38 L185.20,40.14 L185.95,39.90 L186.70,39.69 L187.45,39.48 L188.20,39.29 L188.95,39.13 L189.70,38.98 L190.45,38.85 L191.20,38.74 L191.95,38.64 L192.70,38.54 L193.45,38.45 L194.20,38.35 L194.95,38.25 L195.70,38.15 L196.45,38.05 L197.20,37.96 L197.95,37.86 L198.70,37.78 L199.45,37.70 L200.20,37.64 L200.95,37.57 L201.70,37.51 L202.45,37.45 L203.20,37.39 L203.95,37.34 L204.70,37.28 L205.45,37.23 L206.20,37.18 L206.95,37.13 L207.70,37.08 L208.45,37.03 L209.20,36.98 L209.95,36.94 L210.70,36.89 L211.45,36.85 L212.20,36.81 L212.95,36.77 L213.70,36.73 L214.45,36.68 L215.20,36.64 L215.95,36.60 L216.70,36.56 L217.45,36.52 L218.20,36.48 L218.95,36.45 L219.70,36.41 L220.45,36.37 L221.20,36.32 L221.95,36.28 L222.70,36.24 L223.45,36.20 L224.20,36.16 L224.95,36.11 L225.70,36.07 L226.45,36.03 L227.20,35.99 L227.95,35.95 L228.70,35.91 L229.45,35.87 L230.20,35.83 L230.95,35.79 L231.70,35.76 L232.45,35.73 L233.20,35.69 L233.95,35.66 L234.70,35.63 L235.45,35.61 L236.20,35.58 L236.95,35.56 L237.70,35.54 L238.45,35.52 L239.20,35.51 L239.95,35.49 L240.70,35.48 L241.45,35.47 L242.20,35.46 L242.95,35.45 L243.70,35.45 L244.45,35.44 L245.20,35.43 L245.95,35.43 L246.70,35.42 L247.45,35.41 L248.20,35.41 L248.95,35.40 L249.70,35.40 L250.45,35.39 L251.20,35.39 L251.95,35.38 L252.70,35.38 L253.45,35.37 L254.20,35.36 L254.95,35.36 L255.70,35.35 L256.45,35.34 L257.20,35.33 L257.95,35.32 L258.70,35.31 L259.45,35.30 L260.20,35.28 L260.95,35.26 L261.70,35.24 L262.45,35.21 L263.20,35.18 L263.95,35.15 L264.70,35.12 L265.45,35.08 L266.20,35.04 L266.95,35.00 L267.70,34.96 L268.45,34.92 L269.20,34.88 L269.95,34.84 L270.70,34.79 L271.45,34.75 L272.20,34.71 L272.95,34.67 L273.70,34.63 L274.45,34.59 L275.20,34.55 L275.95,34.51 L276.70,34.48 L277.45,34.45 L278.20,34.43 L278.95,34.40 L279.70,34.38 L280.45,34.36 L281.20,34.34 L281.95,34.32 L282.70,34.30 L283.45,34.28 L284.20,34.26 L284.95,34.24 L285.70,34.22 L286.45,34.20 L287.20,34.18 L287.95,34.16 L288.70,34.15 L289.45,34.13 L290.20,34.11 L290.95,34.10 L291.70,34.08 L292.45,34.06 L293.20,34.05 L293.95,34.03 L294.70,34.02 L295.45,34.00 L296.20,33.99 L296.95,33.97 L297.70,33.96 L298.45,33.94 L299.20,33.93 L299.95,33.91 L300.70,33.90 L301.45,33.89 L302.20,33.87 L302.95,33.86 L303.70,33.85 L304.45,33.83 L305.20,33.82 L305.95,33.81 L306.70,33.79 L307.45,33.78 L308.20,33.77 L308.95,33.76 L309.70,33.75 L310.45,33.73 L311.20,33.72 L311.95,33.71 L312.70,33.70 L313.45,33.69 L314.20,33.67 L314.95,33.66 L315.70,33.65 L316.45,33.64 L317.20,33.63 L317.95,33.62 L318.70,33.60 L319.45,33.59 L320.20,33.58 L320.95,33.57 L321.70,33.56 L322.45,33.55 L323.20,33.54 L323.95,33.52 L324.70,33.51 L325.45,33.50 L326.20,33.49 L326.95,33.48 L327.70,33.47 L328.45,33.46 L329.20,33.45 L329.95,33.43 L330.70,33.42 L331.45,33.41 L332.20,33.40 L332.95,33.39 L333.70,33.38 L334.45,33.37 L335.20,33.36 L335.95,33.35 L336.70,33.34 L337.45,33.33 L338.20,33.32 L338.95,33.31 L339.70,33.30 L340.45,33.29 L341.20,33.28 L341.95,33.27 L342.70,33.26 L343.45,33.25 L344.20,33.24 L344.95,33.23 L345.70,33.22 L346.45,33.22 L347.20,33.21 L347.95,33.20 L348.70,33.19 L349.45,33.18 L350.20,33.18 L350.95,33.17 L351.70,33.16 L352.45,33.15 L353.20,33.15 L353.95,33.14 L354.70,33.13 L355.45,33.13 L356.20,33.12 L356.95,33.11 L357.70,33.11 L358.45,33.10 L359.20,33.10 L359.95,33.09 L360.70,33.09 L361.45,33.08 L362.20,33.08 L362.95,33.07 L363.70,33.07 L364.45,33.06 L365.20,33.06 L365.95,33.06 L366.70,33.05 L367.45,33.05 L368.20,33.04 L368.95,33.04 L369.70,33.04 L370.45,33.03 L371.20,33.03 L371.95,33.02 L372.70,33.02 L373.45,33.02 L374.20,33.01 L374.95,33.01 L375.70,33.01 L376.45,33.01 L377.20,33.00 L377.95,33.00 L378.70,33.00" stroke="#000" stroke-width="1.25" stroke-dasharray="2.5 1.5" stroke-linejoin="miter"/>
<path d="M55.30,119.00 L56.05,119.00 L56.80,118.99 L57.55,118.97 L58.30,118.95 L59.05,118.92 L59.80,118.89 L60.55,118.85 L61.30,118.81 L62.05,118.77 L62.80,118.72 L63.55,118.68 L64.30,118.62 L65.05,118.57 L65.80,118.51 L66.55,118.45 L67.30,118.38 L68.05,118.28 L68.80,118.18 L69.55,118.06 L70.30,117.93 L71.05,117.80 L71.80,117.66 L72.55,117.51 L73.30,117.35 L74.05,117.17 L74.80,116.97 L75.55,116.76 L76.30,116.54 L77.05,116.30 L77.80,116.07 L78.55,115.84 L79.30,115.61 L80.05,115.39 L80.80,115.17 L81.55,114.96 L82.30,114.74 L83.05,114.53 L83.80,114.31 L84.55,114.10 L85.30,113.87 L86.05,113.65 L86.80,113.42 L87.55,113.18 L88.30,112.94 L89.05,112.70 L89.80,112.45 L90.55,112.19 L91.30,111.94 L92.05,111.68 L92.80,111.41 L93.55,111.15 L94.30,110.88 L95.05,110.60 L95.80,110.33 L96.55,110.05 L97.30,109.77 L98.05,109.49 L98.80,109.21 L99.55,108.92 L100.30,108.63 L101.05,108.34 L101.80,108.04 L102.55,107.74 L103.30,107.44 L104.05,107.14 L104.80,106.83 L105.55,106.52 L106.30,106.21 L107.05,105.90 L107.80,105.59 L108.55,105.28 L109.30,104.97 L110.05,104.65 L110.80,104.33 L111.55,104.01 L112.30,103.69 L113.05,103.37 L113.80,103.05 L114.55,102.72 L115.30,102.40 L116.05,102.08 L116.80,101.76 L117.55,101.44 L118.30,101.13 L119.05,100.81 L119.80,100.50 L120.55,100.19 L121.30,99.87 L122.05,99.56 L122.80,99.23 L123.55,98.91 L124.30,98.57 L125.05,98.23 L125.80,97.88 L126.55,97.52 L127.30,97.15 L128.05,96.77 L128.80,96.37 L129.55,95.97 L130.30,95.56 L131.05,95.13 L131.80,94.70 L132.55,94.26 L133.30,93.82 L134.05,93.36 L134.80,92.91 L135.55,92.45 L136.30,91.98 L137.05,91.51 L137.80,91.04 L138.55,90.57 L139.30,90.10 L140.05,89.62 L140.80,89.15 L141.55,88.68 L142.30,88.21 L143.05,87.74 L143.80,87.28 L144.55,86.82 L145.30,86.37 L146.05,85.92 L146.80,85.48 L147.55,85.04 L148.30,84.62 L149.05,84.19 L149.80,83.77 L150.55,83.36 L151.30,82.94 L152.05,82.53 L152.80,82.12 L153.55,81.71 L154.30,81.30 L155.05,80.89 L155.80,80.48 L156.55,80.07 L157.30,79.66 L158.05,79.25 L158.80,78.83 L159.55,78.41 L160.30,77.98 L161.05,77.55 L161.80,77.12 L162.55,76.69 L163.30,76.26 L164.05,75.83 L164.80,75.40 L165.55,74.98 L166.30,74.57 L167.05,74.16 L167.80,73.76 L168.55,73.37 L169.30,72.99 L170.05,72.63 L170.80,72.27 L171.55,71.93 L172.30,71.61 L173.05,71.30 L173.80,71.00 L174.55,70.72 L175.30,70.44 L176.05,70.17 L176.80,69.90 L177.55,69.64 L178.30,69.38 L179.05,69.12 L179.80,68.86 L180.55,68.59 L181.30,68.33 L182.05,68.05 L182.80,67.77 L183.55,67.48 L184.30,67.18 L185.05,66.86 L185.80,66.54 L186.55,66.20 L187.30,65.85 L188.05,65.49 L188.80,65.12 L189.55,64.75 L190.30,64.36 L191.05,63.98 L191.80,63.58 L192.55,63.19 L193.30,62.79 L194.05,62.39 L194.80,61.99 L195.55,61.60 L196.30,61.20 L197.05,60.81 L197.80,60.41 L198.55,60.03 L199.30,59.65 L200.05,59.27 L200.80,58.89 L201.55,58.50 L202.30,58.12 L203.05,57.73 L203.80,57.35 L204.55,56.96 L205.30,56.58 L206.05,56.19 L206.80,55.81 L207.55,55.42 L208.30,55.04 L209.05,54.65 L209.80,54.27 L210.55,53.89 L211.30,53.50 L212.05,53.12 L212.80,52.74 L213.55,52.37 L214.30,51.99 L215.05,51.62 L215.80,51.24 L216.55,50.87 L217.30,50.51 L218.05,50.14 L218.80,49.78 L219.55,49.42 L220.30,49.06 L221.05,48.72 L221.80,48.39 L222.55,48.06 L223.30,47.75 L224.05,47.44 L224.80,47.13 L225.55,46.83 L226.30,46.53 L227.05,46.24 L227.80,45.94 L228.55,45.64 L229.30,45.34 L230.05,45.04 L230.80,44.73 L231.55,44.42 L232.30,44.10 L233.05,43.77 L233.80,43.43 L234.55,43.08 L235.30,42.72 L236.05,42.34 L236.80,41.95 L237.55,41.54 L238.30,41.12 L239.05,40.68 L239.80,40.21 L240.55,39.71 L241.30,39.13 L242.05,38.46 L242.80,37.56 L243.55,36.26 L244.30,36.04 L245.05,35.95 L245.80,35.87 L246.55,35.80 L247.30,35.74 L248.05,35.69 L248.80,35.65 L249.55,35.61 L250.30,35.58 L251.05,35.55 L251.80,35.52 L252.55,35.50 L253.30,35.48 L254.05,35.47 L254.80,35.45 L255.55,35.43 L256.30,35.41 L257.05,35.39 L257.80,35.36 L258.55,35.33 L259.30,35.30 L260.05,35.26 L260.80,35.23 L261.55,35.19 L262.30,35.15 L263.05,35.11 L263.80,35.07 L264.55,35.03 L265.30,35.00 L266.05,34.96 L266.80,34.92 L267.55,34.88 L268.30,34.84 L269.05,34.81 L269.80,34.77 L270.55,34.73 L271.30,34.70 L272.05,34.66 L272.80,34.63 L273.55,34.60 L274.30,34.57 L275.05,34.54 L275.80,34.51 L276.55,34.48 L277.30,34.45 L278.05,34.43 L278.80,34.41 L279.55,34.38 L280.30,34.36 L281.05,34.34 L281.80,34.32 L282.55,34.30 L283.30,34.28 L284.05,34.26 L284.80,34.24 L285.55,34.22 L286.30,34.20 L287.05,34.19 L287.80,34.17 L288.55,34.15 L289.30,34.13 L290.05,34.12 L290.80,34.10 L291.55,34.08 L292.30,34.07 L293.05,34.05 L293.80,34.03 L294.55,34.02 L295.30,34.00 L296.05,33.99 L296.80,33.97 L297.55,33.96 L298.30,33.94 L299.05,33.93 L299.80,33.92 L300.55,33.90 L301.30,33.89 L302.05,33.88 L302.80,33.86 L303.55,33.85 L304.30,33.84 L305.05,33.82 L305.80,33.81 L306.55,33.80 L307.30,33.78 L308.05,33.77 L308.80,33.76 L309.55,33.75 L310.30,33.74 L311.05,33.72 L311.80,33.71 L312.55,33.70 L313.30,33.69 L314.05,33.68 L314.80,33.66 L315.55,33.65 L316.30,33.64 L317.05,33.63 L317.80,33.62 L318.55,33.61 L319.30,33.60 L320.05,33.58 L320.80,33.57 L321.55,33.56 L322.30,33.55 L323.05,33.54 L323.80,33.53 L324.55,33.52 L325.30,33.50 L326.05,33.49 L326.80,33.48 L327.55,33.47 L328.30,33.46 L329.05,33.45 L329.80,33.44 L330.55,33.43 L331.30,33.41 L332.05,33.40 L332.80,33.39 L333.55,33.38 L334.30,33.37 L335.05,33.36 L335.80,33.35 L336.55,33.34 L337.30,33.33 L338.05,33.32 L338.80,33.31 L339.55,33.30 L340.30,33.29 L341.05,33.28 L341.80,33.27 L342.55,33.26 L343.30,33.25 L344.05,33.24 L344.80,33.23 L345.55,33.23 L346.30,33.22 L347.05,33.21 L347.80,33.20 L348.55,33.19 L349.30,33.18 L350.05,33.18 L350.80,33.17 L351.55,33.16 L352.30,33.16 L353.05,33.15 L353.80,33.14 L354.55,33.13 L355.30,33.13 L356.05,33.12 L356.80,33.12 L357.55,33.11 L358.30,33.10 L359.05,33.10 L359.80,33.09 L360.55,33.09 L361.30,33.08 L362.05,33.08 L362.80,33.07 L363.55,33.07 L364.30,33.07 L365.05,33.06 L365.80,33.06 L366.55,33.05 L367.30,33.05 L368.05,33.04 L368.80,33.04 L369.55,33.04 L370.30,33.03 L371.05,33.03 L371.80,33.03 L372.55,33.02 L373.30,33.02 L374.05,33.02 L374.80,33.01 L375.55,33.01 L376.30,33.01 L377.05,33.00 L377.80,33.00 L378.55,33.00 L378.70,33.00" stroke="#ff00ff" stroke-width="1.85" stroke-dasharray="2.4 1.8 0.9 1.8" stroke-dashoffset="4.1"/>
<path d="M55.30,150.90 L56.05,150.84 L56.80,150.77 L57.55,150.70 L58.30,150.62 L59.05,150.54 L59.80,150.45 L60.55,150.36 L61.30,150.26 L62.05,150.17 L62.80,150.06 L63.55,149.96 L64.30,149.85 L65.05,149.74 L65.80,149.62 L66.55,149.50 L67.30,149.38 L68.05,149.26 L68.80,149.13 L69.55,148.99 L70.30,148.85 L71.05,148.71 L71.80,148.55 L72.55,148.40 L73.30,148.23 L74.05,148.07 L74.80,147.89 L75.55,147.72 L76.30,147.54 L77.05,147.35 L77.80,147.16 L78.55,146.97 L79.30,146.77 L80.05,146.57 L80.80,146.36 L81.55,146.15 L82.30,145.94 L83.05,145.73 L83.80,145.51 L84.55,145.29 L85.30,145.07 L86.05,144.84 L86.80,144.61 L87.55,144.38 L88.30,144.15 L89.05,143.91 L89.80,143.67 L90.55,143.42 L91.30,143.17 L92.05,142.91 L92.80,142.64 L93.55,142.37 L94.30,142.09 L95.05,141.81 L95.80,141.53 L96.55,141.24 L97.30,140.94 L98.05,140.64 L98.80,140.33 L99.55,140.02 L100.30,139.70 L101.05,139.38 L101.80,139.05 L102.55,138.72 L103.30,138.38 L104.05,138.04 L104.80,137.69 L105.55,137.34 L106.30,136.98 L107.05,136.62 L107.80,136.25 L108.55,135.87 L109.30,135.47 L110.05,135.06 L110.80,134.64 L111.55,134.20 L112.30,133.75 L113.05,133.30 L113.80,132.83 L114.55,132.36 L115.30,131.88 L116.05,131.39 L116.80,130.90 L117.55,130.40 L118.30,129.90 L119.05,129.40 L119.80,128.89 L120.55,128.39 L121.30,127.88 L122.05,127.37 L122.80,126.87 L123.55,126.37 L124.30,125.87 L125.05,125.37 L125.80,124.89 L126.55,124.40 L127.30,123.93 L128.05,123.45 L128.80,122.98 L129.55,122.51 L130.30,122.04 L131.05,121.57 L131.80,121.09 L132.55,120.62 L133.30,120.15 L134.05,119.67 L134.80,119.20 L135.55,118.73 L136.30,118.25 L137.05,117.78 L137.80,117.31 L138.55,116.84 L139.30,116.37 L140.05,115.90 L140.80,115.43 L141.55,114.96 L142.30,114.49 L143.05,114.02 L143.80,113.56 L144.55,113.10 L145.30,112.63 L146.05,112.17 L146.80,111.71 L147.55,111.25 L148.30,110.80 L149.05,110.34 L149.80,109.89 L150.55,109.44 L151.30,108.99 L152.05,108.54 L152.80,108.09 L153.55,107.65 L154.30,107.20 L155.05,106.76 L155.80,106.32 L156.55,105.87 L157.30,105.43 L158.05,104.99 L158.80,104.55 L159.55,104.11 L160.30,103.67 L161.05,103.23 L161.80,102.78 L162.55,102.34 L163.30,101.90 L164.05,101.46 L164.80,101.01 L165.55,100.56 L166.30,100.12 L167.05,99.67 L167.80,99.22 L168.55,98.77 L169.30,98.31 L170.05,97.85 L170.80,97.39 L171.55,96.93 L172.30,96.47 L173.05,96.01 L173.80,95.54 L174.55,95.08 L175.30,94.61 L176.05,94.15 L176.80,93.68 L177.55,93.22 L178.30,92.76 L179.05,92.29 L179.80,91.84 L180.55,91.38 L181.30,90.92 L182.05,90.47 L182.80,90.02 L183.55,89.57 L184.30,89.13 L185.05,88.69 L185.80,88.26 L186.55,87.83 L187.30,87.40 L188.05,86.98 L188.80,86.56 L189.55,86.15 L190.30,85.74 L191.05,85.34 L191.80,84.94 L192.55,84.54 L193.30,84.15 L194.05,83.75 L194.80,83.36 L195.55,82.98 L196.30,82.59 L197.05,82.20 L197.80,81.82 L198.55,81.43 L199.30,81.04 L200.05,80.66 L200.80,80.27 L201.55,79.88 L202.30,79.49 L203.05,79.10 L203.80,78.71 L204.55,78.31 L205.30,77.92 L206.05,77.51 L206.80,77.11 L207.55,76.70 L208.30,76.29 L209.05,75.87 L209.80,75.45 L210.55,75.03 L211.30,74.61 L212.05,74.18 L212.80,73.76 L213.55,73.34 L214.30,72.92 L215.05,72.51 L215.80,72.10 L216.55,71.69 L217.30,71.29 L218.05,70.89 L218.80,70.49 L219.55,70.09 L220.30,69.69 L221.05,69.29 L221.80,68.90 L222.55,68.50 L223.30,68.11 L224.05,67.71 L224.80,67.32 L225.55,66.93 L226.30,66.53 L227.05,66.14 L227.80,65.75 L228.55,65.35 L229.30,64.96 L230.05,64.57 L230.80,64.18 L231.55,63.81 L232.30,63.45 L233.05,63.08 L233.80,62.72 L234.55,62.35 L235.30,61.98 L236.05,61.59 L236.80,61.19 L237.55,60.78 L238.30,60.34 L239.05,59.89 L239.80,59.39 L240.55,58.76 L241.30,58.04 L242.05,57.30 L242.80,56.60 L243.55,56.03 L244.30,55.66 L245.05,55.47 L245.80,55.31 L246.55,55.17 L247.30,55.03 L248.05,54.91 L248.80,54.80 L249.55,54.70 L250.30,54.61 L251.05,54.53 L251.80,54.45 L252.55,54.38 L253.30,54.32 L254.05,54.25 L254.80,54.19 L255.55,54.13 L256.30,54.07 L257.05,54.01 L257.80,53.94 L258.55,53.87 L259.30,53.80 L260.05,53.72 L260.80,53.65 L261.55,53.57 L262.30,53.50 L263.05,53.42 L263.80,53.35 L264.55,53.28 L265.30,53.20 L266.05,53.13 L266.80,53.06 L267.55,52.99 L268.30,52.92 L269.05,52.85 L269.80,52.79 L270.55,52.72 L271.30,52.66 L272.05,52.60 L272.80,52.53 L273.55,52.48 L274.30,52.42 L275.05,52.36 L275.80,52.31 L276.55,52.26 L277.30,52.21 L278.05,52.16 L278.80,52.11 L279.55,52.07 L280.30,52.02 L281.05,51.98 L281.80,51.94 L282.55,51.90 L283.30,51.86 L284.05,51.82 L284.80,51.78 L285.55,51.74 L286.30,51.70 L287.05,51.66 L287.80,51.62 L288.55,51.59 L289.30,51.55 L290.05,51.51 L290.80,51.48 L291.55,51.44 L292.30,51.41 L293.05,51.38 L293.80,51.34 L294.55,51.31 L295.30,51.28 L296.05,51.24 L296.80,51.21 L297.55,51.18 L298.30,51.15 L299.05,51.12 L299.80,51.09 L300.55,51.06 L301.30,51.03 L302.05,51.00 L302.80,50.97 L303.55,50.94 L304.30,50.92 L305.05,50.89 L305.80,50.86 L306.55,50.83 L307.30,50.81 L308.05,50.78 L308.80,50.75 L309.55,50.73 L310.30,50.70 L311.05,50.68 L311.80,50.65 L312.55,50.63 L313.30,50.60 L314.05,50.58 L314.80,50.55 L315.55,50.53 L316.30,50.50 L317.05,50.48 L317.80,50.45 L318.55,50.43 L319.30,50.41 L320.05,50.38 L320.80,50.36 L321.55,50.33 L322.30,50.31 L323.05,50.29 L323.80,50.26 L324.55,50.24 L325.30,50.21 L326.05,50.19 L326.80,50.17 L327.55,50.14 L328.30,50.12 L329.05,50.09 L329.80,50.07 L330.55,50.05 L331.30,50.02 L332.05,50.00 L332.80,49.97 L333.55,49.95 L334.30,49.93 L335.05,49.91 L335.80,49.88 L336.55,49.86 L337.30,49.84 L338.05,49.82 L338.80,49.80 L339.55,49.77 L340.30,49.75 L341.05,49.73 L341.80,49.71 L342.55,49.69 L343.30,49.67 L344.05,49.66 L344.80,49.64 L345.55,49.62 L346.30,49.60 L347.05,49.59 L347.80,49.57 L348.55,49.55 L349.30,49.54 L350.05,49.52 L350.80,49.51 L351.55,49.50 L352.30,49.48 L353.05,49.47 L353.80,49.46 L354.55,49.45 L355.30,49.44 L356.05,49.43 L356.80,49.42 L357.55,49.41 L358.30,49.41 L359.05,49.40 L359.80,49.39 L360.55,49.39 L361.30,49.38 L362.05,49.38 L362.80,49.37 L363.55,49.37 L364.30,49.36 L365.05,49.35 L365.80,49.35 L366.55,49.34 L367.30,49.34 L368.05,49.34 L368.80,49.33 L369.55,49.33 L370.30,49.32 L371.05,49.32 L371.80,49.32 L372.55,49.31 L373.30,49.31 L374.05,49.31 L374.80,49.31 L375.55,49.30 L376.30,49.30 L377.05,49.30 L377.80,49.30 L378.55,49.30 L378.70,49.30" stroke="#c236ca" stroke-width="1.85" stroke-dasharray="1.0 1.7"/>
<path d="M55.30,182.40 L56.05,182.35 L56.80,182.29 L57.55,182.22 L58.30,182.15 L59.05,182.07 L59.80,181.99 L60.55,181.91 L61.30,181.82 L62.05,181.73 L62.80,181.63 L63.55,181.53 L64.30,181.42 L65.05,181.32 L65.80,181.21 L66.55,181.09 L67.30,180.98 L68.05,180.86 L68.80,180.74 L69.55,180.61 L70.30,180.48 L71.05,180.34 L71.80,180.19 L72.55,180.04 L73.30,179.89 L74.05,179.73 L74.80,179.56 L75.55,179.39 L76.30,179.21 L77.05,179.03 L77.80,178.84 L78.55,178.65 L79.30,178.45 L80.05,178.25 L80.80,178.04 L81.55,177.82 L82.30,177.60 L83.05,177.38 L83.80,177.14 L84.55,176.91 L85.30,176.67 L86.05,176.41 L86.80,176.15 L87.55,175.86 L88.30,175.56 L89.05,175.24 L89.80,174.90 L90.55,174.56 L91.30,174.20 L92.05,173.83 L92.80,173.44 L93.55,173.05 L94.30,172.65 L95.05,172.24 L95.80,171.82 L96.55,171.39 L97.30,170.96 L98.05,170.53 L98.80,170.09 L99.55,169.64 L100.30,169.20 L101.05,168.75 L101.80,168.31 L102.55,167.86 L103.30,167.41 L104.05,166.97 L104.80,166.53 L105.55,166.10 L106.30,165.67 L107.05,165.24 L107.80,164.82 L108.55,164.40 L109.30,163.98 L110.05,163.55 L110.80,163.13 L111.55,162.70 L112.30,162.27 L113.05,161.84 L113.80,161.41 L114.55,160.98 L115.30,160.54 L116.05,160.10 L116.80,159.66 L117.55,159.22 L118.30,158.77 L119.05,158.33 L119.80,157.88 L120.55,157.42 L121.30,156.97 L122.05,156.51 L122.80,156.05 L123.55,155.58 L124.30,155.11 L125.05,154.64 L125.80,154.17 L126.55,153.69 L127.30,153.21 L128.05,152.72 L128.80,152.22 L129.55,151.72 L130.30,151.20 L131.05,150.69 L131.80,150.17 L132.55,149.64 L133.30,149.11 L134.05,148.57 L134.80,148.03 L135.55,147.49 L136.30,146.95 L137.05,146.41 L137.80,145.86 L138.55,145.32 L139.30,144.77 L140.05,144.23 L140.80,143.69 L141.55,143.15 L142.30,142.61 L143.05,142.07 L143.80,141.54 L144.55,141.02 L145.30,140.50 L146.05,139.98 L146.80,139.47 L147.55,138.97 L148.30,138.47 L149.05,137.98 L149.80,137.49 L150.55,137.01 L151.30,136.53 L152.05,136.06 L152.80,135.59 L153.55,135.12 L154.30,134.66 L155.05,134.20 L155.80,133.73 L156.55,133.27 L157.30,132.82 L158.05,132.36 L158.80,131.90 L159.55,131.44 L160.30,130.97 L161.05,130.51 L161.80,130.05 L162.55,129.58 L163.30,129.11 L164.05,128.64 L164.80,128.16 L165.55,127.68 L166.30,127.19 L167.05,126.70 L167.80,126.20 L168.55,125.70 L169.30,125.19 L170.05,124.68 L170.80,124.16 L171.55,123.64 L172.30,123.11 L173.05,122.58 L173.80,122.05 L174.55,121.51 L175.30,120.98 L176.05,120.44 L176.80,119.90 L177.55,119.36 L178.30,118.82 L179.05,118.28 L179.80,117.75 L180.55,117.21 L181.30,116.67 L182.05,116.14 L182.80,115.61 L183.55,115.08 L184.30,114.56 L185.05,114.04 L185.80,113.52 L186.55,113.01 L187.30,112.50 L188.05,112.00 L188.80,111.50 L189.55,111.00 L190.30,110.50 L191.05,110.00 L191.80,109.51 L192.55,109.01 L193.30,108.52 L194.05,108.03 L194.80,107.54 L195.55,107.05 L196.30,106.57 L197.05,106.09 L197.80,105.60 L198.55,105.12 L199.30,104.64 L200.05,104.16 L200.80,103.69 L201.55,103.21 L202.30,102.74 L203.05,102.27 L203.80,101.79 L204.55,101.33 L205.30,100.86 L206.05,100.39 L206.80,99.92 L207.55,99.46 L208.30,99.00 L209.05,98.55 L209.80,98.11 L210.55,97.66 L211.30,97.22 L212.05,96.79 L212.80,96.36 L213.55,95.93 L214.30,95.50 L215.05,95.07 L215.80,94.64 L216.55,94.21 L217.30,93.79 L218.05,93.36 L218.80,92.92 L219.55,92.49 L220.30,92.05 L221.05,91.61 L221.80,91.17 L222.55,90.72 L223.30,90.27 L224.05,89.81 L224.80,89.34 L225.55,88.87 L226.30,88.39 L227.05,87.90 L227.80,87.40 L228.55,86.90 L229.30,86.40 L230.05,85.91 L230.80,85.41 L231.55,84.91 L232.30,84.41 L233.05,83.90 L233.80,83.39 L234.55,82.87 L235.30,82.34 L236.05,81.80 L236.80,81.25 L237.55,80.69 L238.30,80.11 L239.05,79.52 L239.80,78.91 L240.55,78.28 L241.30,77.63 L242.05,76.96 L242.80,76.27 L243.55,75.55 L244.30,74.56 L245.05,74.02 L245.80,73.81 L246.55,73.61 L247.30,73.42 L248.05,73.25 L248.80,73.10 L249.55,72.95 L250.30,72.82 L251.05,72.70 L251.80,72.58 L252.55,72.48 L253.30,72.39 L254.05,72.30 L254.80,72.22 L255.55,72.15 L256.30,72.08 L257.05,72.02 L257.80,71.96 L258.55,71.90 L259.30,71.85 L260.05,71.79 L260.80,71.74 L261.55,71.69 L262.30,71.64 L263.05,71.58 L263.80,71.52 L264.55,71.46 L265.30,71.40 L266.05,71.33 L266.80,71.25 L267.55,71.17 L268.30,71.09 L269.05,71.01 L269.80,70.93 L270.55,70.85 L271.30,70.77 L272.05,70.69 L272.80,70.61 L273.55,70.53 L274.30,70.45 L275.05,70.38 L275.80,70.30 L276.55,70.23 L277.30,70.15 L278.05,70.08 L278.80,70.01 L279.55,69.93 L280.30,69.86 L281.05,69.79 L281.80,69.73 L282.55,69.66 L283.30,69.59 L284.05,69.53 L284.80,69.46 L285.55,69.40 L286.30,69.34 L287.05,69.28 L287.80,69.22 L288.55,69.16 L289.30,69.10 L290.05,69.04 L290.80,68.98 L291.55,68.93 L292.30,68.87 L293.05,68.82 L293.80,68.76 L294.55,68.71 L295.30,68.65 L296.05,68.60 L296.80,68.54 L297.55,68.49 L298.30,68.44 L299.05,68.38 L299.80,68.33 L300.55,68.28 L301.30,68.23 L302.05,68.18 L302.80,68.13 L303.55,68.08 L304.30,68.03 L305.05,67.98 L305.80,67.93 L306.55,67.88 L307.30,67.84 L308.05,67.79 L308.80,67.74 L309.55,67.70 L310.30,67.65 L311.05,67.60 L311.80,67.56 L312.55,67.51 L313.30,67.47 L314.05,67.43 L314.80,67.38 L315.55,67.34 L316.30,67.30 L317.05,67.25 L317.80,67.21 L318.55,67.17 L319.30,67.13 L320.05,67.09 L320.80,67.05 L321.55,67.01 L322.30,66.97 L323.05,66.93 L323.80,66.89 L324.55,66.85 L325.30,66.81 L326.05,66.77 L326.80,66.73 L327.55,66.70 L328.30,66.66 L329.05,66.62 L329.80,66.58 L330.55,66.55 L331.30,66.51 L332.05,66.47 L332.80,66.43 L333.55,66.39 L334.30,66.36 L335.05,66.32 L335.80,66.28 L336.55,66.24 L337.30,66.20 L338.05,66.17 L338.80,66.13 L339.55,66.09 L340.30,66.05 L341.05,66.02 L341.80,65.98 L342.55,65.95 L343.30,65.91 L344.05,65.88 L344.80,65.85 L345.55,65.81 L346.30,65.78 L347.05,65.75 L347.80,65.72 L348.55,65.69 L349.30,65.66 L350.05,65.64 L350.80,65.61 L351.55,65.58 L352.30,65.56 L353.05,65.54 L353.80,65.52 L354.55,65.49 L355.30,65.48 L356.05,65.46 L356.80,65.44 L357.55,65.43 L358.30,65.41 L359.05,65.40 L359.80,65.39 L360.55,65.38 L361.30,65.36 L362.05,65.35 L362.80,65.34 L363.55,65.33 L364.30,65.32 L365.05,65.31 L365.80,65.30 L366.55,65.29 L367.30,65.28 L368.05,65.27 L368.80,65.26 L369.55,65.25 L370.30,65.25 L371.05,65.24 L371.80,65.23 L372.55,65.23 L373.30,65.22 L374.05,65.22 L374.80,65.21 L375.55,65.21 L376.30,65.20 L377.05,65.20 L377.80,65.20 L378.55,65.20 L378.70,65.20" stroke="#850094" stroke-width="2" stroke-dasharray="2.3 1.8 0.9 1.8" stroke-dashoffset="4.1"/>
<path d="M55.00,213.60 L55.75,213.54 L56.50,213.48 L57.25,213.41 L58.00,213.33 L58.75,213.24 L59.50,213.15 L60.25,213.05 L61.00,212.95 L61.75,212.84 L62.50,212.73 L63.25,212.61 L64.00,212.48 L64.75,212.36 L65.50,212.22 L66.25,212.09 L67.00,211.95 L67.75,211.81 L68.50,211.66 L69.25,211.50 L70.00,211.34 L70.75,211.16 L71.50,210.97 L72.25,210.78 L73.00,210.57 L73.75,210.36 L74.50,210.14 L75.25,209.92 L76.00,209.68 L76.75,209.44 L77.50,209.20 L78.25,208.94 L79.00,208.69 L79.75,208.42 L80.50,208.16 L81.25,207.88 L82.00,207.61 L82.75,207.33 L83.50,207.05 L84.25,206.76 L85.00,206.47 L85.75,206.18 L86.50,205.89 L87.25,205.60 L88.00,205.30 L88.75,205.00 L89.50,204.69 L90.25,204.37 L91.00,204.05 L91.75,203.72 L92.50,203.38 L93.25,203.04 L94.00,202.68 L94.75,202.33 L95.50,201.96 L96.25,201.59 L97.00,201.22 L97.75,200.83 L98.50,200.45 L99.25,200.05 L100.00,199.65 L100.75,199.25 L101.50,198.84 L102.25,198.42 L103.00,198.00 L103.75,197.58 L104.50,197.15 L105.25,196.71 L106.00,196.27 L106.75,195.83 L107.50,195.38 L108.25,194.92 L109.00,194.45 L109.75,193.96 L110.50,193.46 L111.25,192.95 L112.00,192.43 L112.75,191.90 L113.50,191.36 L114.25,190.82 L115.00,190.26 L115.75,189.70 L116.50,189.14 L117.25,188.56 L118.00,187.99 L118.75,187.41 L119.50,186.82 L120.25,186.24 L121.00,185.65 L121.75,185.07 L122.50,184.48 L123.25,183.89 L124.00,183.31 L124.75,182.73 L125.50,182.15 L126.25,181.57 L127.00,181.00 L127.75,180.43 L128.50,179.84 L129.25,179.26 L130.00,178.66 L130.75,178.07 L131.50,177.48 L132.25,176.89 L133.00,176.31 L133.75,175.73 L134.50,175.17 L135.25,174.62 L136.00,174.08 L136.75,173.55 L137.50,173.03 L138.25,172.52 L139.00,172.01 L139.75,171.51 L140.50,171.01 L141.25,170.52 L142.00,170.02 L142.75,169.52 L143.50,169.02 L144.25,168.51 L145.00,168.00 L145.75,167.48 L146.50,166.95 L147.25,166.40 L148.00,165.85 L148.75,165.29 L149.50,164.72 L150.25,164.14 L151.00,163.55 L151.75,162.96 L152.50,162.36 L153.25,161.76 L154.00,161.15 L154.75,160.54 L155.50,159.92 L156.25,159.30 L157.00,158.68 L157.75,158.05 L158.50,157.42 L159.25,156.79 L160.00,156.16 L160.75,155.51 L161.50,154.85 L162.25,154.17 L163.00,153.49 L163.75,152.81 L164.50,152.14 L165.25,151.48 L166.00,150.83 L166.75,150.20 L167.50,149.60 L168.25,149.02 L169.00,148.46 L169.75,147.91 L170.50,147.38 L171.25,146.85 L172.00,146.33 L172.75,145.82 L173.50,145.31 L174.25,144.80 L175.00,144.28 L175.75,143.77 L176.50,143.24 L177.25,142.71 L178.00,142.17 L178.75,141.62 L179.50,141.08 L180.25,140.54 L181.00,139.99 L181.75,139.44 L182.50,138.89 L183.25,138.34 L184.00,137.79 L184.75,137.23 L185.50,136.66 L186.25,136.10 L187.00,135.53 L187.75,134.95 L188.50,134.35 L189.25,133.74 L190.00,133.13 L190.75,132.52 L191.50,131.92 L192.25,131.35 L193.00,130.80 L193.75,130.28 L194.50,129.79 L195.25,129.32 L196.00,128.85 L196.75,128.39 L197.50,127.92 L198.25,127.44 L199.00,126.96 L199.75,126.47 L200.50,125.99 L201.25,125.51 L202.00,125.02 L202.75,124.54 L203.50,124.05 L204.25,123.57 L205.00,123.08 L205.75,122.60 L206.50,122.12 L207.25,121.64 L208.00,121.16 L208.75,120.69 L209.50,120.22 L210.25,119.75 L211.00,119.28 L211.75,118.82 L212.50,118.35 L213.25,117.89 L214.00,117.43 L214.75,116.96 L215.50,116.50 L216.25,116.04 L217.00,115.58 L217.75,115.11 L218.50,114.65 L219.25,114.18 L220.00,113.71 L220.75,113.24 L221.50,112.76 L222.25,112.28 L223.00,111.80 L223.75,111.31 L224.50,110.82 L225.25,110.32 L226.00,109.82 L226.75,109.32 L227.50,108.81 L228.25,108.30 L229.00,107.81 L229.75,107.35 L230.50,106.91 L231.25,106.48 L232.00,106.06 L232.75,105.63 L233.50,105.20 L234.25,104.75 L235.00,104.28 L235.75,103.79 L236.50,103.26 L237.25,102.69 L238.00,102.08 L238.75,101.41 L239.50,100.69 L240.25,99.90 L241.00,99.04 L241.75,98.07 L242.50,96.18 L243.25,94.25 L244.00,93.57 L244.75,93.23 L245.50,92.98 L246.25,92.79 L247.00,92.62 L247.75,92.44 L248.50,92.25 L249.25,92.07 L250.00,91.90 L250.75,91.73 L251.50,91.56 L252.25,91.40 L253.00,91.25 L253.75,91.10 L254.50,90.96 L255.25,90.81 L256.00,90.68 L256.75,90.54 L257.50,90.41 L258.25,90.28 L259.00,90.15 L259.75,90.02 L260.50,89.90 L261.25,89.78 L262.00,89.66 L262.75,89.54 L263.50,89.41 L264.25,89.29 L265.00,89.17 L265.75,89.05 L266.50,88.93 L267.25,88.81 L268.00,88.68 L268.75,88.56 L269.50,88.44 L270.25,88.31 L271.00,88.19 L271.75,88.07 L272.50,87.95 L273.25,87.82 L274.00,87.70 L274.75,87.59 L275.50,87.47 L276.25,87.35 L277.00,87.23 L277.75,87.12 L278.50,87.01 L279.25,86.90 L280.00,86.79 L280.75,86.68 L281.50,86.58 L282.25,86.48 L283.00,86.38 L283.75,86.28 L284.50,86.19 L285.25,86.10 L286.00,86.01 L286.75,85.93 L287.50,85.85 L288.25,85.77 L289.00,85.69 L289.75,85.61 L290.50,85.53 L291.25,85.45 L292.00,85.38 L292.75,85.30 L293.50,85.22 L294.25,85.15 L295.00,85.08 L295.75,85.00 L296.50,84.93 L297.25,84.86 L298.00,84.79 L298.75,84.72 L299.50,84.65 L300.25,84.58 L301.00,84.52 L301.75,84.45 L302.50,84.39 L303.25,84.32 L304.00,84.26 L304.75,84.19 L305.50,84.13 L306.25,84.07 L307.00,84.01 L307.75,83.95 L308.50,83.89 L309.25,83.83 L310.00,83.77 L310.75,83.71 L311.50,83.65 L312.25,83.60 L313.00,83.54 L313.75,83.49 L314.50,83.43 L315.25,83.38 L316.00,83.33 L316.75,83.27 L317.50,83.22 L318.25,83.17 L319.00,83.12 L319.75,83.07 L320.50,83.02 L321.25,82.97 L322.00,82.93 L322.75,82.88 L323.50,82.83 L324.25,82.79 L325.00,82.74 L325.75,82.70 L326.50,82.66 L327.25,82.61 L328.00,82.57 L328.75,82.53 L329.50,82.49 L330.25,82.44 L331.00,82.40 L331.75,82.36 L332.50,82.32 L333.25,82.28 L334.00,82.23 L334.75,82.19 L335.50,82.15 L336.25,82.11 L337.00,82.07 L337.75,82.02 L338.50,81.98 L339.25,81.94 L340.00,81.90 L340.75,81.86 L341.50,81.82 L342.25,81.78 L343.00,81.75 L343.75,81.71 L344.50,81.67 L345.25,81.63 L346.00,81.60 L346.75,81.56 L347.50,81.52 L348.25,81.49 L349.00,81.45 L349.75,81.42 L350.50,81.39 L351.25,81.36 L352.00,81.32 L352.75,81.29 L353.50,81.26 L354.25,81.23 L355.00,81.21 L355.75,81.18 L356.50,81.15 L357.25,81.13 L358.00,81.10 L358.75,81.08 L359.50,81.06 L360.25,81.04 L361.00,81.02 L361.75,81.00 L362.50,80.98 L363.25,80.96 L364.00,80.95 L364.75,80.93 L365.50,80.92 L366.25,80.91 L367.00,80.90 L367.75,80.89 L368.50,80.88 L369.25,80.87 L370.00,80.86 L370.75,80.85 L371.50,80.85 L372.25,80.84 L373.00,80.83 L373.75,80.82 L374.50,80.82 L375.25,80.81 L376.00,80.81 L376.75,80.80 L377.50,80.80 L378.25,80.80 L378.70,80.80" stroke="#ff1a1a" stroke-width="2" stroke-dasharray="1.0 1.7"/>
<path d="M102.30,228.60 L103.05,228.02 L103.80,227.45 L104.55,226.87 L105.30,226.30 L106.05,225.72 L106.80,225.15 L107.55,224.58 L108.30,224.01 L109.05,223.44 L109.80,222.88 L110.55,222.31 L111.30,221.75 L112.05,221.18 L112.80,220.62 L113.55,220.06 L114.30,219.50 L115.05,218.95 L115.80,218.40 L116.55,217.86 L117.30,217.32 L118.05,216.78 L118.80,216.24 L119.55,215.70 L120.30,215.16 L121.05,214.61 L121.80,214.06 L122.55,213.51 L123.30,212.95 L124.05,212.38 L124.80,211.80 L125.55,211.21 L126.30,210.62 L127.05,210.02 L127.80,209.41 L128.55,208.80 L129.30,208.18 L130.05,207.56 L130.80,206.94 L131.55,206.31 L132.30,205.68 L133.05,205.04 L133.80,204.41 L134.55,203.77 L135.30,203.13 L136.05,202.49 L136.80,201.84 L137.55,201.19 L138.30,200.53 L139.05,199.87 L139.80,199.21 L140.55,198.54 L141.30,197.87 L142.05,197.20 L142.80,196.53 L143.55,195.86 L144.30,195.19 L145.05,194.52 L145.80,193.85 L146.55,193.19 L147.30,192.54 L148.05,191.88 L148.80,191.23 L149.55,190.58 L150.30,189.93 L151.05,189.28 L151.80,188.63 L152.55,187.98 L153.30,187.33 L154.05,186.69 L154.80,186.04 L155.55,185.40 L156.30,184.75 L157.05,184.11 L157.80,183.47 L158.55,182.83 L159.30,182.20 L160.05,181.56 L160.80,180.93 L161.55,180.29 L162.30,179.66 L163.05,179.04 L163.80,178.41 L164.55,177.79 L165.30,177.17 L166.05,176.55 L166.80,175.93 L167.55,175.32 L168.30,174.71 L169.05,174.10 L169.80,173.50 L170.55,172.89 L171.30,172.29 L172.05,171.69 L172.80,171.10 L173.55,170.50 L174.30,169.91 L175.05,169.31 L175.80,168.72 L176.55,168.13 L177.30,167.53 L178.05,166.94 L178.80,166.35 L179.55,165.76 L180.30,165.17 L181.05,164.58 L181.80,163.98 L182.55,163.39 L183.30,162.80 L184.05,162.20 L184.80,161.60 L185.55,161.00 L186.30,160.40 L187.05,159.80 L187.80,159.20 L188.55,158.59 L189.30,157.97 L190.05,157.36 L190.80,156.74 L191.55,156.11 L192.30,155.49 L193.05,154.86 L193.80,154.24 L194.55,153.61 L195.30,152.98 L196.05,152.36 L196.80,151.73 L197.55,151.11 L198.30,150.48 L199.05,149.86 L199.80,149.25 L200.55,148.64 L201.30,148.03 L202.05,147.43 L202.80,146.83 L203.55,146.24 L204.30,145.65 L205.05,145.07 L205.80,144.50 L206.55,143.93 L207.30,143.38 L208.05,142.83 L208.80,142.29 L209.55,141.76 L210.30,141.23 L211.05,140.70 L211.80,140.19 L212.55,139.67 L213.30,139.16 L214.05,138.66 L214.80,138.16 L215.55,137.66 L216.30,137.16 L217.05,136.67 L217.80,136.17 L218.55,135.68 L219.30,135.19 L220.05,134.70 L220.80,134.21 L221.55,133.71 L222.30,133.22 L223.05,132.72 L223.80,132.22 L224.55,131.72 L225.30,131.21 L226.05,130.71 L226.80,130.19 L227.55,129.67 L228.30,129.15 L229.05,128.65 L229.80,128.14 L230.55,127.64 L231.30,127.13 L232.05,126.61 L232.80,126.07 L233.55,125.51 L234.30,124.93 L235.05,124.31 L235.80,123.67 L236.55,123.01 L237.30,122.33 L238.05,121.62 L238.80,120.87 L239.55,120.10 L240.30,119.29 L241.05,118.45 L241.80,117.54 L242.55,116.39 L243.30,115.30 L244.05,114.65 L244.80,114.14 L245.55,113.72 L246.30,113.36 L247.05,113.06 L247.80,112.80 L248.55,112.55 L249.30,112.32 L250.05,112.10 L250.80,111.89 L251.55,111.69 L252.30,111.50 L253.05,111.32 L253.80,111.15 L254.55,110.98 L255.30,110.82 L256.05,110.67 L256.80,110.52 L257.55,110.38 L258.30,110.24 L259.05,110.11 L259.80,109.97 L260.55,109.84 L261.30,109.71 L262.05,109.58 L262.80,109.44 L263.55,109.31 L264.30,109.18 L265.05,109.04 L265.80,108.90 L266.55,108.75 L267.30,108.60 L268.05,108.45 L268.80,108.29 L269.55,108.14 L270.30,107.98 L271.05,107.83 L271.80,107.68 L272.55,107.52 L273.30,107.37 L274.05,107.22 L274.80,107.06 L275.55,106.91 L276.30,106.76 L277.05,106.61 L277.80,106.47 L278.55,106.32 L279.30,106.17 L280.05,106.03 L280.80,105.89 L281.55,105.75 L282.30,105.61 L283.05,105.47 L283.80,105.34 L284.55,105.21 L285.30,105.08 L286.05,104.96 L286.80,104.83 L287.55,104.71 L288.30,104.59 L289.05,104.47 L289.80,104.35 L290.55,104.23 L291.30,104.11 L292.05,103.99 L292.80,103.87 L293.55,103.75 L294.30,103.63 L295.05,103.51 L295.80,103.40 L296.55,103.28 L297.30,103.16 L298.05,103.04 L298.80,102.93 L299.55,102.81 L300.30,102.70 L301.05,102.59 L301.80,102.47 L302.55,102.36 L303.30,102.25 L304.05,102.14 L304.80,102.03 L305.55,101.92 L306.30,101.82 L307.05,101.71 L307.80,101.60 L308.55,101.50 L309.30,101.40 L310.05,101.30 L310.80,101.20 L311.55,101.10 L312.30,101.00 L313.05,100.91 L313.80,100.81 L314.55,100.72 L315.30,100.63 L316.05,100.54 L316.80,100.45 L317.55,100.36 L318.30,100.28 L319.05,100.20 L319.80,100.12 L320.55,100.04 L321.30,99.96 L322.05,99.88 L322.80,99.81 L323.55,99.74 L324.30,99.67 L325.05,99.60 L325.80,99.54 L326.55,99.48 L327.30,99.42 L328.05,99.36 L328.80,99.30 L329.55,99.24 L330.30,99.18 L331.05,99.12 L331.80,99.06 L332.55,99.00 L333.30,98.94 L334.05,98.88 L334.80,98.82 L335.55,98.76 L336.30,98.70 L337.05,98.65 L337.80,98.59 L338.55,98.53 L339.30,98.47 L340.05,98.42 L340.80,98.36 L341.55,98.31 L342.30,98.25 L343.05,98.20 L343.80,98.14 L344.55,98.09 L345.30,98.04 L346.05,97.99 L346.80,97.94 L347.55,97.89 L348.30,97.85 L349.05,97.80 L349.80,97.76 L350.55,97.71 L351.30,97.67 L352.05,97.63 L352.80,97.59 L353.55,97.55 L354.30,97.52 L355.05,97.48 L355.80,97.45 L356.55,97.42 L357.30,97.39 L358.05,97.36 L358.80,97.34 L359.55,97.32 L360.30,97.29 L361.05,97.28 L361.80,97.26 L362.55,97.24 L363.30,97.23 L364.05,97.22 L364.80,97.21 L365.55,97.20 L366.30,97.20 L367.05,97.20 L367.80,97.20 L368.55,97.20 L369.30,97.20 L370.05,97.20 L370.80,97.20 L371.55,97.20 L372.30,97.20 L373.05,97.20 L373.80,97.20 L374.55,97.20 L375.30,97.20 L376.05,97.20 L376.80,97.20 L377.55,97.20 L378.30,97.20 L378.70,97.20" stroke="#ff6070" stroke-width="1.4" stroke-dasharray="2.3 2.0 0.7 2.0"/>
</g>
<rect x="49.0" y="20.5" width="336.50" height="208.00" fill="none" stroke="#666" stroke-width="0.55"/>
<path d="M55.40,228.5v-2.4M55.40,20.5v2.4M76.00,228.5v-1.4M76.00,20.5v1.4M96.60,228.5v-1.4M96.60,20.5v1.4M117.20,228.5v-1.4M117.20,20.5v1.4M137.80,228.5v-1.4M137.80,20.5v1.4M158.40,228.5v-2.4M158.40,20.5v2.4M179.00,228.5v-1.4M179.00,20.5v1.4M199.60,228.5v-1.4M199.60,20.5v1.4M220.20,228.5v-1.4M220.20,20.5v1.4M240.80,228.5v-1.4M240.80,20.5v1.4M261.40,228.5v-2.4M261.40,20.5v2.4M282.00,228.5v-1.4M282.00,20.5v1.4M302.60,228.5v-1.4M302.60,20.5v1.4M323.20,228.5v-1.4M323.20,20.5v1.4M343.80,228.5v-1.4M343.80,20.5v1.4M364.40,228.5v-2.4M364.40,20.5v2.4M385.00,228.5v-1.4M385.00,20.5v1.4M49.0,24.50h2.4M385.5,24.50h-2.4M49.0,37.26h1.4M385.5,37.26h-1.4M49.0,50.02h1.4M385.5,50.02h-1.4M49.0,62.78h1.4M385.5,62.78h-1.4M49.0,75.54h1.4M385.5,75.54h-1.4M49.0,88.30h2.4M385.5,88.30h-2.4M49.0,101.06h1.4M385.5,101.06h-1.4M49.0,113.82h1.4M385.5,113.82h-1.4M49.0,126.58h1.4M385.5,126.58h-1.4M49.0,139.34h1.4M385.5,139.34h-1.4M49.0,152.10h2.4M385.5,152.10h-2.4M49.0,164.86h1.4M385.5,164.86h-1.4M49.0,177.62h1.4M385.5,177.62h-1.4M49.0,190.38h1.4M385.5,190.38h-1.4M49.0,203.14h1.4M385.5,203.14h-1.4M49.0,215.90h2.4M385.5,215.90h-2.4" stroke="#666" stroke-width="0.7" fill="none"/>
<g filter="url(#gs)">
<text class="tk" transform="translate(54.80,239.7) rotate(0.3)" text-anchor="middle" textLength="11.6" lengthAdjust="spacingAndGlyphs">0.0</text>
<text class="tk" transform="translate(157.80,239.7) rotate(0.3)" text-anchor="middle" textLength="11.6" lengthAdjust="spacingAndGlyphs">0.5</text>
<text class="tk" transform="translate(260.60,239.7) rotate(0.3)" text-anchor="middle" textLength="11.5" lengthAdjust="spacingAndGlyphs">1.0</text>
<text class="tk" transform="translate(363.80,239.7) rotate(0.3)" text-anchor="middle" textLength="10.3" lengthAdjust="spacingAndGlyphs">1.5</text>
<text class="tk" transform="translate(45.2,27.80) rotate(0.3)" text-anchor="end" textLength="16.8" lengthAdjust="spacingAndGlyphs">0.00</text>
<text class="tk" transform="translate(45.2,91.60) rotate(0.3)" text-anchor="end" textLength="16.8" lengthAdjust="spacingAndGlyphs">0.05</text>
<text class="tk" transform="translate(26.7,91.60) rotate(0.3)" text-anchor="end" textLength="6.0" lengthAdjust="spacingAndGlyphs">−</text>
<text class="tk" transform="translate(45.2,155.40) rotate(0.3)" text-anchor="end" textLength="15.7" lengthAdjust="spacingAndGlyphs">0.10</text>
<text class="tk" transform="translate(28.2,155.40) rotate(0.3)" text-anchor="end" textLength="6.0" lengthAdjust="spacingAndGlyphs">−</text>
<text class="tk" transform="translate(45.2,219.20) rotate(0.3)" text-anchor="end" textLength="15.5" lengthAdjust="spacingAndGlyphs">0.15</text>
<text class="tk" transform="translate(28.2,219.20) rotate(0.3)" text-anchor="end" textLength="6.0" lengthAdjust="spacingAndGlyphs">−</text>
<text class="lb" x="189.6" y="12.4" font-size="12.5px" style="font-family:'Liberation Serif','DejaVu Sans',serif;font-style:italic" textLength="11" lengthAdjust="spacingAndGlyphs">ℛ</text>
<text class="lb" x="203.8" y="12.4" font-size="12.8px" textLength="9.1" lengthAdjust="spacingAndGlyphs">=</text>
<text class="lb" x="216.5" y="12.4" font-size="12.8px" textLength="28.6" lengthAdjust="spacingAndGlyphs">0.975</text>
<text class="lb" x="182.6" y="257" font-size="12.8px" textLength="33.4" lengthAdjust="spacingAndGlyphs">arctan</text>
<text class="lb" x="219.5" y="257.2" font-size="14.2px">(</text>
<text class="lb" x="224.6" y="257" font-size="12.8px" font-style="italic">a</text>
<text class="lb" x="230.9" y="257.6" font-size="15px">/</text>
<text class="lb" x="236.2" y="257" font-size="12.8px" font-style="italic">Q</text>
<text class="lb" x="245.7" y="257.2" font-size="14.2px">)</text>
<g transform="translate(11.9,147.7) rotate(-90)">
<text class="lb" x="0" y="0" font-size="12.8px" textLength="14.9" lengthAdjust="spacingAndGlyphs">Im</text>
<text class="lb" x="14.6" y="0.2" font-size="14.2px">(</text>
<text class="lb" x="19.0" y="0" font-size="12.8px" font-style="italic" textLength="7.9" lengthAdjust="spacingAndGlyphs">ω</text>
<text class="lb" x="29.3" y="0" font-size="12.8px" font-style="italic">r</text>
<text class="lb" x="34.3" y="3.6" font-size="14px" style="fill:#3a3a3a">+</text>
<text class="lb" x="42.2" y="0.2" font-size="14.2px">)</text>
</g>
</g>
</svg></body></html>
